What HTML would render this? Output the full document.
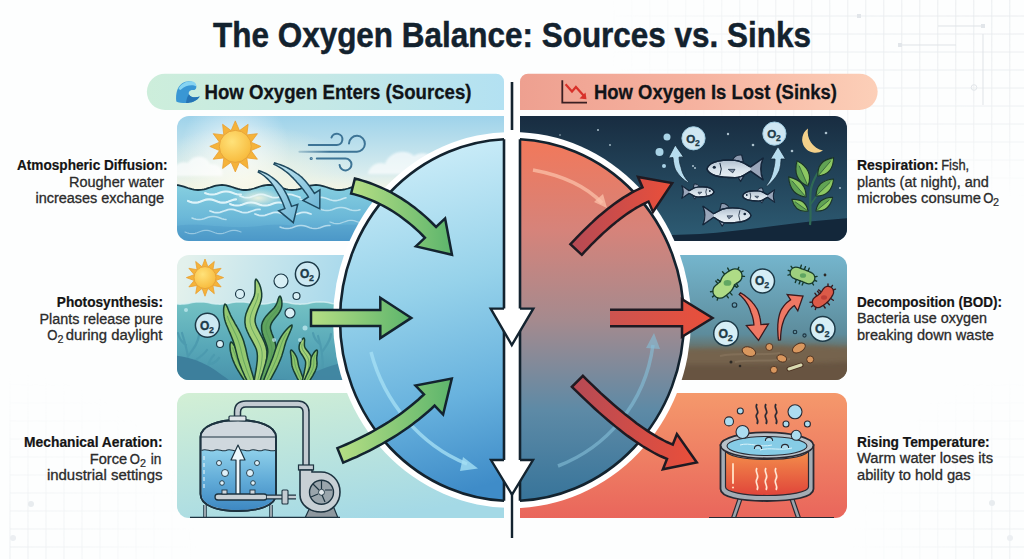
<!DOCTYPE html>
<html><head><meta charset="utf-8"><style>
html,body{margin:0;padding:0;background:#fdfefe;width:1024px;height:559px;overflow:hidden}
svg{display:block}
text{font-family:"Liberation Sans",sans-serif}
</style></head><body>
<svg width="1024" height="559" viewBox="0 0 1024 559">

<defs>
 <linearGradient id="hdrL" x1="0" x2="1" y1="0" y2="0">
  <stop offset="0" stop-color="#cdeedb"/><stop offset="0.5" stop-color="#c4e8e6"/><stop offset="1" stop-color="#b3e1f2"/>
 </linearGradient>
 <linearGradient id="hdrR" x1="0" x2="1" y1="0" y2="0">
  <stop offset="0" stop-color="#eea090"/><stop offset="0.5" stop-color="#f6b3a0"/><stop offset="1" stop-color="#fccfb8"/>
 </linearGradient>
 <linearGradient id="circL" x1="0" x2="0.25" y1="0" y2="1">
  <stop offset="0" stop-color="#d6f2fb"/><stop offset="0.45" stop-color="#96d2ea"/><stop offset="0.75" stop-color="#68b2de"/><stop offset="1" stop-color="#3f8cc8"/>
 </linearGradient>
 <linearGradient id="circR" x1="0" x2="0" y1="0" y2="1">
  <stop offset="0" stop-color="#f2785a"/><stop offset="0.25" stop-color="#d6837a"/><stop offset="0.5" stop-color="#a58a8e"/><stop offset="0.75" stop-color="#5d8aa6"/><stop offset="1" stop-color="#37749a"/>
 </linearGradient>
 <linearGradient id="greenA" gradientUnits="objectBoundingBox" x1="0" x2="1" y1="0" y2="0">
  <stop offset="0" stop-color="#b6de84"/><stop offset="1" stop-color="#5db56c"/>
 </linearGradient>
 <linearGradient id="redA" gradientUnits="objectBoundingBox" x1="0" x2="1" y1="0" y2="0">
  <stop offset="0" stop-color="#b54a55"/><stop offset="1" stop-color="#ea4f3a"/>
 </linearGradient>
 <linearGradient id="p1sky" x1="0" x2="0" y1="0" y2="1">
  <stop offset="0" stop-color="#98d0ea"/><stop offset="0.45" stop-color="#d8ecee"/><stop offset="0.56" stop-color="#f2f5e6"/>
 </linearGradient>
 <linearGradient id="p1sea" x1="0" x2="0" y1="0" y2="1">
  <stop offset="0" stop-color="#86cfe0"/><stop offset="0.5" stop-color="#6bb8d8"/><stop offset="1" stop-color="#4591c6"/>
 </linearGradient>
 <linearGradient id="p2sky" gradientUnits="userSpaceOnUse" x1="185" x2="340" y1="260" y2="300">
  <stop offset="0" stop-color="#e3f1ec"/><stop offset="1" stop-color="#a9d9ec"/>
 </linearGradient>
 <linearGradient id="p2sea" x1="0" x2="0" y1="0" y2="1">
  <stop offset="0" stop-color="#74c2c4"/><stop offset="0.5" stop-color="#58a8b8"/><stop offset="1" stop-color="#458ea8"/>
 </linearGradient>
 <linearGradient id="p3bg" x1="0" x2="0.4" y1="0" y2="1">
  <stop offset="0" stop-color="#d4f0d4"/><stop offset="1" stop-color="#a4d9e6"/>
 </linearGradient>
 <linearGradient id="r1bg" x1="0" x2="0" y1="0" y2="1">
  <stop offset="0" stop-color="#172a3e"/><stop offset="1" stop-color="#2f6078"/>
 </linearGradient>
 <linearGradient id="r2bg" x1="0" x2="0" y1="0" y2="1">
  <stop offset="0" stop-color="#76b8d0"/><stop offset="0.6" stop-color="#5d8c9c"/><stop offset="0.75" stop-color="#6e6450"/><stop offset="1" stop-color="#5e4e3c"/>
 </linearGradient>
 <linearGradient id="r3bg" x1="0" x2="0" y1="0" y2="1">
  <stop offset="0" stop-color="#f59a6c"/><stop offset="1" stop-color="#e8615a"/>
 </linearGradient>
 <radialGradient id="glow1" cx="0.5" cy="0.5" r="0.5">
  <stop offset="0" stop-color="#f6f6e2" stop-opacity="0.9"/><stop offset="1" stop-color="#f6f6e2" stop-opacity="0"/>
 </radialGradient>
 <linearGradient id="windG" gradientUnits="userSpaceOnUse" x1="299" x2="330" y1="0" y2="0">
  <stop offset="0" stop-color="#3d7496" stop-opacity="0.3"/><stop offset="1" stop-color="#3d7496"/>
 </linearGradient>
 <linearGradient id="ablue" x1="0" x2="1" y1="0" y2="1">
  <stop offset="0" stop-color="#c6e8f2"/><stop offset="1" stop-color="#6db6d6"/>
 </linearGradient>
 <linearGradient id="fishG" x1="0" x2="0" y1="0" y2="1">
  <stop offset="0" stop-color="#a9b8c8"/><stop offset="0.5" stop-color="#d6e1ea"/><stop offset="1" stop-color="#eef3f6"/>
 </linearGradient>
 <linearGradient id="potG" x1="0" x2="0" y1="0" y2="1">
  <stop offset="0" stop-color="#f4914c"/><stop offset="1" stop-color="#e0453a"/>
 </linearGradient>
 <radialGradient id="fTR" gradientUnits="userSpaceOnUse" cx="1000" cy="20" r="400" gradientTransform="translate(1000 20) scale(1 0.45) translate(-1000 -20)"><stop offset="0" stop-color="#fff" stop-opacity="1"/><stop offset="0.6" stop-color="#fff" stop-opacity="0.7"/><stop offset="1" stop-color="#fff" stop-opacity="0"/></radialGradient>
 <mask id="fadeTR"><rect x="600" y="0" width="424" height="200" fill="url(#fTR)"/></mask>
 <radialGradient id="fBL" cx="0" cy="1" r="1"><stop offset="0" stop-color="#fff" stop-opacity="0.8"/><stop offset="1" stop-color="#fff" stop-opacity="0"/></radialGradient>
 <mask id="fadeBL"><rect x="0" y="370" width="200" height="189" fill="url(#fBL)"/></mask>
 <radialGradient id="fBR" cx="1" cy="1" r="1"><stop offset="0" stop-color="#fff" stop-opacity="0.8"/><stop offset="1" stop-color="#fff" stop-opacity="0"/></radialGradient>
 <mask id="fadeBR"><rect x="850" y="370" width="174" height="189" fill="url(#fBR)"/></mask>
 <linearGradient id="tankW" x1="0" x2="0" y1="0" y2="1">
  <stop offset="0" stop-color="#8fd0ea"/><stop offset="0.5" stop-color="#62acd8"/><stop offset="1" stop-color="#3e88c2"/>
 </linearGradient>
 <filter id="blur2" x="-5%" y="-30%" width="110%" height="160%"><feGaussianBlur stdDeviation="2"/></filter>
 <radialGradient id="glow2" cx="0.5" cy="0.5" r="0.5">
  <stop offset="0" stop-color="#ffffff" stop-opacity="0.75"/><stop offset="0.6" stop-color="#ffffff" stop-opacity="0.3"/><stop offset="1" stop-color="#ffffff" stop-opacity="0"/>
 </radialGradient>
 <linearGradient id="redB" x1="0" x2="1" y1="0" y2="0">
  <stop offset="0" stop-color="#cc5450"/><stop offset="1" stop-color="#ea4f3a"/>
 </linearGradient>
 <filter id="blur1" x="-10%" y="-30%" width="120%" height="160%"><feGaussianBlur stdDeviation="1"/></filter>
 <radialGradient id="sun" cx="0.4" cy="0.35" r="0.7">
  <stop offset="0" stop-color="#ffe27a"/><stop offset="1" stop-color="#f7b93a"/>
 </radialGradient>
 <clipPath id="cL1"><path d="M189 116H504V241H189A12 12 0 0 1 177 229V128A12 12 0 0 1 189 116Z"/></clipPath>
 <clipPath id="cL2"><path d="M189 255H504V380H189A12 12 0 0 1 177 368V267A12 12 0 0 1 189 255Z"/></clipPath>
 <clipPath id="cL3"><path d="M189 393H504V518H189A12 12 0 0 1 177 506V405A12 12 0 0 1 189 393Z"/></clipPath>
 <clipPath id="cR1"><path d="M520 116H835A12 12 0 0 1 847 128V229A12 12 0 0 1 835 241H520Z"/></clipPath>
 <clipPath id="cR2"><path d="M520 255H835A12 12 0 0 1 847 267V368A12 12 0 0 1 835 380H520Z"/></clipPath>
 <clipPath id="cR3"><path d="M520 393H835A12 12 0 0 1 847 405V506A12 12 0 0 1 835 518H520Z"/></clipPath>
 <clipPath id="halfL"><rect x="0" y="0" width="504" height="559"/></clipPath>
 <clipPath id="halfR"><rect x="520" y="0" width="504" height="559"/></clipPath>
</defs>

<rect width="1024" height="559" fill="#fdfefe"/>
<g mask="url(#fadeTR)"><path d="M613.8 -2.0V196.0M631.8 -2.0V196.0M649.8 -2.0V196.0M667.8 -2.0V196.0M685.8 -2.0V196.0M703.8 -2.0V196.0M721.8 -2.0V196.0M739.8 -2.0V196.0M757.8 -2.0V196.0M775.8 -2.0V196.0M793.8 -2.0V196.0M811.8 -2.0V196.0M829.8 -2.0V196.0M847.8 -2.0V196.0M865.8 -2.0V196.0M883.8 -2.0V196.0M901.8 -2.0V196.0M919.8 -2.0V196.0M937.8 -2.0V196.0M955.8 -2.0V196.0M973.8 -2.0V196.0M991.8 -2.0V196.0M1009.8 -2.0V196.0M613.8 -2.0H1024.0M613.8 16.0H1024.0M613.8 34.0H1024.0M613.8 52.0H1024.0M613.8 70.0H1024.0M613.8 88.0H1024.0M613.8 106.0H1024.0M613.8 124.0H1024.0M613.8 142.0H1024.0M613.8 160.0H1024.0M613.8 178.0H1024.0M613.8 196.0H1024.0" stroke="#e3e7eb" stroke-width="1" fill="none" opacity="0.75"/></g>
<g mask="url(#fadeBL)"><path d="M10.0 367.0V559.0M28.0 367.0V559.0M46.0 367.0V559.0M64.0 367.0V559.0M82.0 367.0V559.0M100.0 367.0V559.0M118.0 367.0V559.0M136.0 367.0V559.0M154.0 367.0V559.0M172.0 367.0V559.0M190.0 367.0V559.0M10.0 367.0H200.0M10.0 385.0H200.0M10.0 403.0H200.0M10.0 421.0H200.0M10.0 439.0H200.0M10.0 457.0H200.0M10.0 475.0H200.0M10.0 493.0H200.0M10.0 511.0H200.0M10.0 529.0H200.0M10.0 547.0H200.0" stroke="#e3e7eb" stroke-width="1" fill="none" opacity="0.8"/></g>
<g mask="url(#fadeBR)"><path d="M847.8 367.0V559.0M865.8 367.0V559.0M883.8 367.0V559.0M901.8 367.0V559.0M919.8 367.0V559.0M937.8 367.0V559.0M955.8 367.0V559.0M973.8 367.0V559.0M991.8 367.0V559.0M1009.8 367.0V559.0M847.8 367.0H1024.0M847.8 385.0H1024.0M847.8 403.0H1024.0M847.8 421.0H1024.0M847.8 439.0H1024.0M847.8 457.0H1024.0M847.8 475.0H1024.0M847.8 493.0H1024.0M847.8 511.0H1024.0M847.8 529.0H1024.0M847.8 547.0H1024.0" stroke="#e3e7eb" stroke-width="1" fill="none" opacity="0.8"/></g>
<path d="M938 26H984M900 45H956M983 34V105M956 45V45" stroke="#dfe3e7" stroke-width="1" fill="none"/>
<rect x="857" y="14" width="4" height="4" fill="#e2e6ea"/><rect x="981" y="24" width="4" height="4" fill="#e2e6ea"/><rect x="898" y="43" width="4" height="4" fill="#e2e6ea"/><rect x="693" y="28" width="4" height="4" fill="#eceff2"/><rect x="772" y="87" width="4" height="4" fill="#eceff2"/>
<circle cx="974" cy="87.5" r="2.8" fill="none" stroke="#e2e6ea" stroke-width="1"/>
<circle cx="31" cy="504" r="3" fill="#e8ecef"/><circle cx="13" cy="538" r="3" fill="#eceff2"/><circle cx="992" cy="503" r="3" fill="#e8ecef"/><circle cx="1010" cy="538" r="3" fill="#eceff2"/>
<text x="213" y="47.2" font-family="Liberation Sans" font-weight="bold" font-size="35.5" fill="#13222e" stroke="#13222e" stroke-width="0.5" textLength="598" lengthAdjust="spacingAndGlyphs">The Oxygen Balance: Sources vs. Sinks</text>
<path d="M165 73.7H496A8 8 0 0 1 504 81.7V110H165A18.15 18.15 0 0 1 165 73.7Z" fill="url(#hdrL)"/>
<path d="M528 73.7H859.5A18.15 18.15 0 0 1 859.5 110H520V81.7A8 8 0 0 1 528 73.7Z" fill="url(#hdrR)"/>
<text x="204.5" y="99.3" font-family="Liberation Sans" font-weight="bold" font-size="19.5" fill="#111418" stroke="#111418" stroke-width="0.3" textLength="267" lengthAdjust="spacingAndGlyphs">How Oxygen Enters (Sources)</text>
<text x="594" y="99.3" font-family="Liberation Sans" font-weight="bold" font-size="19.5" fill="#111418" stroke="#111418" stroke-width="0.3" textLength="243" lengthAdjust="spacingAndGlyphs">How Oxygen Is Lost (Sinks)</text>
<g>
<path d="M176.3 101.5C175.5 94 177 87 182 83.5C187 80 194 80.5 196 85C197 88 195.5 90 193.5 90C190 89.5 188 92 189 94.5C190.5 97.5 196 98 199.8 96.5C197 101 191 103 186 103C182 103 178 102.5 176.3 101.5Z" fill="#3997d4"/>
<path d="M178.5 89C180.5 84 186 80.8 191.5 81.3C194.5 81.6 196.5 83.5 196.2 86.3C193 84.3 186 84.5 180.5 90Z" fill="#86d4f2"/>
<path d="M189 94.5C190.5 97.5 196 98 199.8 96.5C197 101 191 103 186 103C186.5 99.5 187 96.5 189 94.5Z" fill="#2574b4"/>
</g>
<g fill="none">
<path d="M562.3 80.3V102.7H587" stroke="#3a1f22" stroke-width="1.8"/>
<path d="M565.6 84.2L572 91.5L575.9 87L584 96" stroke="#d8312a" stroke-width="2.2"/>
<path d="M579.5 98.5L586.5 99.3L585.5 92.5Z" fill="#d8312a"/>
</g>
<path d="M512 82V140" stroke="#13232f" stroke-width="2.6"/>
<g clip-path="url(#cL1)">
<rect x="170" y="110" width="340" height="140" fill="url(#p1sky)"/>
<ellipse cx="250" cy="180" rx="110" ry="55" fill="url(#glow1)"/>
<path d="M170 176 C172 166 180 160 188 163 C193 154 207 155 210 164 C218 163 225 170 222 176Z" fill="#ffffff" opacity="0.7" filter="url(#blur1)"/>
<path d="M368 174 C369 166 378 161 385 164 C389 152 405 148 414 156 C421 150 436 154 436 164 C444 164 448 169 447 174Z" fill="#ffffff" opacity="0.65" filter="url(#blur1)"/>
<circle cx="235" cy="150" r="55" fill="url(#glow2)"/>
<g><path d="M235.3 120.9 L239.5 130.6 L248.1 124.3 L246.8 134.9 L257.4 133.7 L251.1 142.2 L260.8 146.4 L251.1 150.6 L257.4 159.2 L246.8 157.9 L248.1 168.5 L239.5 162.2 L235.3 171.9 L231.1 162.2 L222.6 168.5 L223.8 157.9 L213.2 159.2 L219.5 150.6 L209.8 146.4 L219.5 142.2 L213.2 133.7 L223.8 134.9 L222.6 124.3 L231.1 130.6Z" fill="#f5b33a" stroke="#eaa030" stroke-width="0.8" stroke-linejoin="round"/><circle cx="235.3" cy="146.4" r="16.0" fill="url(#sun)" stroke="#e7a43a" stroke-width="1"/></g>
<g fill="none" stroke="#3d7496" stroke-width="2" stroke-linecap="round">
<path d="M308.8 144.9H336.5A5.6 5.6 0 1 0 331.5 137.5"/>
<path d="M299.4 151.7H356.6A7.95 7.95 0 1 0 349 143.5" stroke="url(#windG)"/>
<path d="M316.8 158.5H345.5A5.95 5.95 0 1 1 339.6 165"/>
<circle cx="311.2" cy="158.5" r="0.6"/>
</g>
<path d="M170.0 185.5L172.0 185.2L174.0 185.0L176.0 185.0L178.0 185.2L180.0 185.6L182.0 186.1L184.0 186.7L186.0 187.3L188.0 188.0L190.0 188.6L192.0 189.2L194.0 189.6L196.0 189.9L198.0 190.0L200.0 189.9L202.0 189.7L204.0 189.3L206.0 188.8L208.0 188.1L210.0 187.5L212.0 186.8L214.0 186.2L216.0 185.7L218.0 185.3L220.0 185.1L222.0 185.0L224.0 185.1L226.0 185.4L228.0 185.8L230.0 186.4L232.0 187.0L234.0 187.7L236.0 188.3L238.0 188.9L240.0 189.4L242.0 189.8L244.0 190.0L246.0 190.0L248.0 189.8L250.0 189.5L252.0 189.0L254.0 188.5L256.0 187.8L258.0 187.2L260.0 186.5L262.0 185.9L264.0 185.5L266.0 185.2L268.0 185.0L270.0 185.0L272.0 185.2L274.0 185.6L276.0 186.1L278.0 186.7L280.0 187.3L282.0 188.0L284.0 188.6L286.0 189.2L288.0 189.6L290.0 189.9L292.0 190.0L294.0 189.9L296.0 189.7L298.0 189.3L300.0 188.8L302.0 188.1L304.0 187.5L306.0 186.8L308.0 186.2L310.0 185.7L312.0 185.3L314.0 185.1L316.0 185.0L318.0 185.1L320.0 185.4L322.0 185.8L324.0 186.4L326.0 187.0L328.0 187.7L330.0 188.3L332.0 188.9L334.0 189.4L336.0 189.8L338.0 190.0L340.0 190.0L342.0 189.8L344.0 189.5L346.0 189.0L348.0 188.5L350.0 187.8L352.0 187.2L354.0 186.5L356.0 185.9L358.0 185.5L360.0 185.2L362.0 185.0L364.0 185.0L366.0 185.2L368.0 185.6L370.0 186.1L372.0 186.7L374.0 187.3L376.0 188.0L378.0 188.6L380.0 189.2L382.0 189.6L384.0 189.9L386.0 190.0L388.0 189.9L390.0 189.7L392.0 189.3L394.0 188.8L396.0 188.1L398.0 187.5L400.0 186.8L402.0 186.2L404.0 185.7L406.0 185.3L408.0 185.1L410.0 185.0L412.0 185.1L414.0 185.4L416.0 185.8L418.0 186.4L420.0 187.0L422.0 187.7L424.0 188.3L426.0 188.9L428.0 189.4L430.0 189.8L432.0 190.0L434.0 190.0L436.0 189.8L438.0 189.5L440.0 189.0L442.0 188.5L444.0 187.8L446.0 187.2L448.0 186.5L450.0 185.9L452.0 185.5L454.0 185.2L456.0 185.0L458.0 185.0L460.0 185.2L462.0 185.6L464.0 186.1L466.0 186.7L468.0 187.3L470.0 188.0L472.0 188.6L474.0 189.2L476.0 189.6L478.0 189.9L480.0 190.0L482.0 189.9L484.0 189.7L486.0 189.3L488.0 188.8L490.0 188.1L492.0 187.5L494.0 186.8L496.0 186.2L498.0 185.7L500.0 185.3L502.0 185.1L504.0 185.0L506.0 185.1L508.0 185.4L510.0 185.8V250.0H170.0Z" fill="url(#p1sea)"/>
<ellipse cx="258" cy="198" rx="24" ry="10" fill="url(#glow1)"/>
<path d="M177 226 C200 222 225 230 260 226 C290 222 300 230 330 226 C360 222 400 230 510 226 L510 250 H177Z" fill="#3f8cc0" opacity="0.25"/>
<path d="M205.0 193.0L207.0 193.7L209.0 194.3L211.0 194.6L213.0 194.6L215.0 194.3L217.0 193.7L219.0 193.0L221.0 192.3L223.0 191.7L225.0 191.4L227.0 191.4L229.0 191.7L231.0 192.3L233.0 193.0L235.0 193.7L237.0 194.3L239.0 194.6L241.0 194.6" fill="none" stroke="#e9f8fc" stroke-width="2.0" stroke-linecap="round" opacity="0.9"/>
<path d="M240.0 196.0L242.0 196.7L244.0 197.3L246.0 197.6L248.0 197.6L250.0 197.3L252.0 196.7L254.0 196.0L256.0 195.3L258.0 194.7L260.0 194.4L262.0 194.4L264.0 194.7L266.0 195.3L268.0 196.0L270.0 196.7L272.0 197.3L274.0 197.6L276.0 197.6L278.0 197.3L280.0 196.7L282.0 196.0L284.0 195.3L286.0 194.7L288.0 194.4L290.0 194.4L292.0 194.7L294.0 195.3L296.0 196.0L298.0 196.7L300.0 197.3" fill="none" stroke="#e9f8fc" stroke-width="1.8" stroke-linecap="round" opacity="0.85"/>
<path d="M188.0 201.0L190.0 201.7L192.0 202.3L194.0 202.6L196.0 202.6L198.0 202.3L200.0 201.7L202.0 201.0L204.0 200.3L206.0 199.7L208.0 199.4L210.0 199.4L212.0 199.7L214.0 200.3L216.0 201.0L218.0 201.7L220.0 202.3L222.0 202.6L224.0 202.6L226.0 202.3L228.0 201.7L230.0 201.0L232.0 200.3L234.0 199.7L236.0 199.4" fill="none" stroke="#e9f8fc" stroke-width="2.2" stroke-linecap="round" opacity="0.9"/>
<path d="M230.0 204.0L232.0 204.7L234.0 205.3L236.0 205.6L238.0 205.6L240.0 205.3L242.0 204.7L244.0 204.0L246.0 203.3L248.0 202.7L250.0 202.4L252.0 202.4L254.0 202.7L256.0 203.3L258.0 204.0L260.0 204.7L262.0 205.3L264.0 205.6L266.0 205.6L268.0 205.3L270.0 204.7L272.0 204.0L274.0 203.3L276.0 202.7L278.0 202.4L280.0 202.4L282.0 202.7L284.0 203.3L286.0 204.0L288.0 204.7L290.0 205.3" fill="none" stroke="#e9f8fc" stroke-width="2.0" stroke-linecap="round" opacity="0.9"/>
<path d="M300.0 199.0L302.0 199.7L304.0 200.3L306.0 200.6L308.0 200.6L310.0 200.3L312.0 199.7L314.0 199.0L316.0 198.3L318.0 197.7L320.0 197.4L322.0 197.4L324.0 197.7L326.0 198.3L328.0 199.0L330.0 199.7L332.0 200.3L334.0 200.6L336.0 200.6L338.0 200.3L340.0 199.7L342.0 199.0L344.0 198.3L346.0 197.7" fill="none" stroke="#e9f8fc" stroke-width="1.6" stroke-linecap="round" opacity="0.7"/>
<path d="M210.0 211.0L212.0 211.7L214.0 212.3L216.0 212.6L218.0 212.6L220.0 212.3L222.0 211.7L224.0 211.0L226.0 210.3L228.0 209.7L230.0 209.4L232.0 209.4L234.0 209.7L236.0 210.3L238.0 211.0L240.0 211.7L242.0 212.3L244.0 212.6L246.0 212.6L248.0 212.3L250.0 211.7L252.0 211.0L254.0 210.3L256.0 209.7L258.0 209.4L260.0 209.4" fill="none" stroke="#e9f8fc" stroke-width="1.8" stroke-linecap="round" opacity="0.8"/>
<path d="M255.0 214.0L257.0 214.7L259.0 215.3L261.0 215.6L263.0 215.6L265.0 215.3L267.0 214.7L269.0 214.0L271.0 213.3L273.0 212.7L275.0 212.4L277.0 212.4L279.0 212.7L281.0 213.3L283.0 214.0L285.0 214.7L287.0 215.3L289.0 215.6L291.0 215.6L293.0 215.3L295.0 214.7L297.0 214.0L299.0 213.3L301.0 212.7L303.0 212.4L305.0 212.4L307.0 212.7L309.0 213.3L311.0 214.0" fill="none" stroke="#e9f8fc" stroke-width="1.8" stroke-linecap="round" opacity="0.8"/>
<path d="M192.0 218.0L194.0 218.7L196.0 219.3L198.0 219.6L200.0 219.6L202.0 219.3L204.0 218.7L206.0 218.0L208.0 217.3L210.0 216.7L212.0 216.4L214.0 216.4L216.0 216.7L218.0 217.3L220.0 218.0L222.0 218.7L224.0 219.3L226.0 219.6" fill="none" stroke="#e9f8fc" stroke-width="1.5" stroke-linecap="round" opacity="0.6"/>
<path d="M320.0 209.0L322.0 209.7L324.0 210.3L326.0 210.6L328.0 210.6L330.0 210.3L332.0 209.7L334.0 209.0L336.0 208.3L338.0 207.7L340.0 207.4L342.0 207.4L344.0 207.7L346.0 208.3L348.0 209.0L350.0 209.7L352.0 210.3L354.0 210.6L356.0 210.6L358.0 210.3L360.0 209.7" fill="none" stroke="#e9f8fc" stroke-width="1.5" stroke-linecap="round" opacity="0.6"/>
<path d="M280.0 227.0L282.0 227.7L284.0 228.3L286.0 228.6L288.0 228.6L290.0 228.3L292.0 227.7L294.0 227.0L296.0 226.3L298.0 225.7L300.0 225.4L302.0 225.4L304.0 225.7L306.0 226.3L308.0 227.0L310.0 227.7L312.0 228.3L314.0 228.6L316.0 228.6L318.0 228.3L320.0 227.7L322.0 227.0L324.0 226.3L326.0 225.7L328.0 225.4L330.0 225.4" fill="none" stroke="#e9f8fc" stroke-width="1.5" stroke-linecap="round" opacity="0.6"/>
<path d="M185.0 232.0L187.0 232.7L189.0 233.3L191.0 233.6L193.0 233.6L195.0 233.3L197.0 232.7L199.0 232.0L201.0 231.3L203.0 230.7L205.0 230.4L207.0 230.4L209.0 230.7L211.0 231.3L213.0 232.0L215.0 232.7L217.0 233.3L219.0 233.6L221.0 233.6L223.0 233.3L225.0 232.7L227.0 232.0L229.0 231.3L231.0 230.7L233.0 230.4L235.0 230.4L237.0 230.7L239.0 231.3L241.0 232.0" fill="none" stroke="#e9f8fc" stroke-width="1.2" stroke-linecap="round" opacity="0.45"/>
<path d="M330.0 222.0L332.0 222.7L334.0 223.3L336.0 223.6L338.0 223.6L340.0 223.3L342.0 222.7L344.0 222.0L346.0 221.3L348.0 220.7L350.0 220.4L352.0 220.4L354.0 220.7L356.0 221.3L358.0 222.0L360.0 222.7L362.0 223.3L364.0 223.6L366.0 223.6L368.0 223.3L370.0 222.7" fill="none" stroke="#e9f8fc" stroke-width="1.3" stroke-linecap="round" opacity="0.5"/>
<path d="M170.0 185.5L172.0 185.2L174.0 185.0L176.0 185.0L178.0 185.2L180.0 185.6L182.0 186.1L184.0 186.7L186.0 187.3L188.0 188.0L190.0 188.6L192.0 189.2L194.0 189.6L196.0 189.9L198.0 190.0L200.0 189.9L202.0 189.7L204.0 189.3L206.0 188.8L208.0 188.1L210.0 187.5L212.0 186.8L214.0 186.2L216.0 185.7L218.0 185.3L220.0 185.1L222.0 185.0L224.0 185.1L226.0 185.4L228.0 185.8L230.0 186.4L232.0 187.0L234.0 187.7L236.0 188.3L238.0 188.9L240.0 189.4L242.0 189.8L244.0 190.0L246.0 190.0L248.0 189.8L250.0 189.5L252.0 189.0L254.0 188.5L256.0 187.8L258.0 187.2L260.0 186.5L262.0 185.9L264.0 185.5L266.0 185.2L268.0 185.0L270.0 185.0L272.0 185.2L274.0 185.6L276.0 186.1L278.0 186.7L280.0 187.3L282.0 188.0L284.0 188.6L286.0 189.2L288.0 189.6L290.0 189.9L292.0 190.0L294.0 189.9L296.0 189.7L298.0 189.3L300.0 188.8L302.0 188.1L304.0 187.5L306.0 186.8L308.0 186.2L310.0 185.7L312.0 185.3L314.0 185.1L316.0 185.0L318.0 185.1L320.0 185.4L322.0 185.8L324.0 186.4L326.0 187.0L328.0 187.7L330.0 188.3L332.0 188.9L334.0 189.4L336.0 189.8L338.0 190.0L340.0 190.0L342.0 189.8L344.0 189.5L346.0 189.0L348.0 188.5L350.0 187.8L352.0 187.2L354.0 186.5L356.0 185.9L358.0 185.5L360.0 185.2L362.0 185.0L364.0 185.0L366.0 185.2L368.0 185.6L370.0 186.1L372.0 186.7L374.0 187.3L376.0 188.0L378.0 188.6L380.0 189.2L382.0 189.6L384.0 189.9L386.0 190.0L388.0 189.9L390.0 189.7L392.0 189.3L394.0 188.8L396.0 188.1L398.0 187.5L400.0 186.8L402.0 186.2L404.0 185.7L406.0 185.3L408.0 185.1L410.0 185.0L412.0 185.1L414.0 185.4L416.0 185.8L418.0 186.4L420.0 187.0L422.0 187.7L424.0 188.3L426.0 188.9L428.0 189.4L430.0 189.8L432.0 190.0L434.0 190.0L436.0 189.8L438.0 189.5L440.0 189.0L442.0 188.5L444.0 187.8L446.0 187.2L448.0 186.5L450.0 185.9L452.0 185.5L454.0 185.2L456.0 185.0L458.0 185.0L460.0 185.2L462.0 185.6L464.0 186.1L466.0 186.7L468.0 187.3L470.0 188.0L472.0 188.6L474.0 189.2L476.0 189.6L478.0 189.9L480.0 190.0L482.0 189.9L484.0 189.7L486.0 189.3L488.0 188.8L490.0 188.1L492.0 187.5L494.0 186.8L496.0 186.2L498.0 185.7L500.0 185.3L502.0 185.1L504.0 185.0L506.0 185.1L508.0 185.4L510.0 185.8" fill="none" stroke="#17323f" stroke-width="1.8"/>
<path d="M258.3 172.1 L259.9 173.0 L261.4 174.0 L262.9 175.0 L264.3 176.0 L265.7 177.2 L267.0 178.4 L268.3 179.6 L269.5 180.9 L270.7 182.2 L271.8 183.6 L272.9 185.1 L273.9 186.6 L274.9 188.2 L275.9 189.8 L276.8 191.5 L277.8 193.1 L278.8 194.8 L279.8 196.6 L280.7 198.4 L281.6 200.3 L282.5 202.3 L283.3 204.3 L284.1 206.4 L284.9 208.6 L278.7 210.7 L293.3 222.7 L297.7 204.3 L291.5 206.4 L290.7 204.1 L289.8 201.8 L288.9 199.6 L288.0 197.4 L287.0 195.3 L286.0 193.3 L284.9 191.3 L283.8 189.4 L282.7 187.6 L281.3 186.0 L279.9 184.4 L278.5 182.9 L277.0 181.4 L275.5 180.1 L274.0 178.8 L272.4 177.6 L270.8 176.5 L269.2 175.4 L267.6 174.4 L265.9 173.5 L264.2 172.7 L262.4 172.0 L260.7 171.3 L258.9 170.7Z" fill="url(#ablue)" stroke="#1f4a60" stroke-width="1.5" stroke-linejoin="miter"/>
<path d="M274.0 164.3 L275.8 165.2 L277.6 166.1 L279.3 167.1 L281.0 168.1 L282.6 169.2 L284.2 170.3 L285.8 171.5 L287.3 172.7 L288.8 173.9 L290.2 175.2 L291.6 176.6 L293.0 177.9 L294.4 179.4 L295.7 180.8 L296.9 182.3 L298.3 183.8 L299.7 185.3 L301.0 186.8 L302.3 188.4 L303.6 190.0 L304.8 191.7 L306.1 193.4 L307.3 195.2 L308.4 197.0 L302.9 200.5 L319.8 208.8 L319.9 189.9 L314.4 193.4 L313.1 191.4 L311.8 189.5 L310.5 187.6 L309.2 185.8 L307.8 184.0 L306.4 182.3 L304.9 180.6 L303.4 179.0 L301.9 177.4 L300.2 176.0 L298.6 174.7 L296.8 173.5 L295.1 172.3 L293.3 171.1 L291.6 170.0 L289.7 169.0 L287.9 168.0 L286.1 167.1 L284.2 166.3 L282.3 165.5 L280.4 164.8 L278.5 164.1 L276.5 163.5 L274.6 162.9Z" fill="url(#ablue)" stroke="#1f4a60" stroke-width="1.5" stroke-linejoin="miter"/>
</g>
<g clip-path="url(#cL2)">
<rect x="170" y="250" width="340" height="140" fill="url(#p2sky)"/>
<g><path d="M205.0 259.0 L207.9 266.8 L214.3 261.5 L212.9 269.7 L221.1 268.3 L215.8 274.7 L223.6 277.6 L215.8 280.5 L221.1 286.9 L212.9 285.5 L214.3 293.7 L207.9 288.4 L205.0 296.2 L202.1 288.4 L195.7 293.7 L197.1 285.5 L188.9 286.9 L194.2 280.5 L186.4 277.6 L194.2 274.7 L188.9 268.3 L197.1 269.7 L195.7 261.5 L202.1 266.8Z" fill="#f5b33a" stroke="#eaa030" stroke-width="0.8" stroke-linejoin="round"/><circle cx="205.0" cy="277.6" r="11.0" fill="url(#sun)" stroke="#e7a43a" stroke-width="1"/></g>
<path d="M170.0 303.0L172.0 303.4L174.0 303.7L176.0 304.0L178.0 304.1L180.0 304.2L182.0 304.1L184.0 304.0L186.0 303.7L188.0 303.4L190.0 303.0L192.0 302.6L194.0 302.3L196.0 302.0L198.0 301.9L200.0 301.8L202.0 301.9L204.0 302.0L206.0 302.3L208.0 302.6L210.0 303.0L212.0 303.4L214.0 303.7L216.0 304.0L218.0 304.1L220.0 304.2L222.0 304.1L224.0 304.0L226.0 303.7L228.0 303.4L230.0 303.0L232.0 302.6L234.0 302.3L236.0 302.0L238.0 301.9L240.0 301.8L242.0 301.9L244.0 302.0L246.0 302.3L248.0 302.6L250.0 303.0L252.0 303.4L254.0 303.7L256.0 304.0L258.0 304.1L260.0 304.2L262.0 304.1L264.0 304.0L266.0 303.7L268.0 303.4L270.0 303.0L272.0 302.6L274.0 302.3L276.0 302.0L278.0 301.9L280.0 301.8L282.0 301.9L284.0 302.0L286.0 302.3L288.0 302.6L290.0 303.0L292.0 303.4L294.0 303.7L296.0 304.0L298.0 304.1L300.0 304.2L302.0 304.1L304.0 304.0L306.0 303.7L308.0 303.4L310.0 303.0L312.0 302.6L314.0 302.3L316.0 302.0L318.0 301.9L320.0 301.8L322.0 301.9L324.0 302.0L326.0 302.3L328.0 302.6L330.0 303.0L332.0 303.4L334.0 303.7L336.0 304.0L338.0 304.1L340.0 304.2L342.0 304.1L344.0 304.0L346.0 303.7L348.0 303.4L350.0 303.0L352.0 302.6L354.0 302.3L356.0 302.0L358.0 301.9L360.0 301.8L362.0 301.9L364.0 302.0L366.0 302.3L368.0 302.6L370.0 303.0L372.0 303.4L374.0 303.7L376.0 304.0L378.0 304.1L380.0 304.2L382.0 304.1L384.0 304.0L386.0 303.7L388.0 303.4L390.0 303.0L392.0 302.6L394.0 302.3L396.0 302.0L398.0 301.9L400.0 301.8L402.0 301.9L404.0 302.0L406.0 302.3L408.0 302.6L410.0 303.0L412.0 303.4L414.0 303.7L416.0 304.0L418.0 304.1L420.0 304.2L422.0 304.1L424.0 304.0L426.0 303.7L428.0 303.4L430.0 303.0L432.0 302.6L434.0 302.3L436.0 302.0L438.0 301.9L440.0 301.8L442.0 301.9L444.0 302.0L446.0 302.3L448.0 302.6L450.0 303.0L452.0 303.4L454.0 303.7L456.0 304.0L458.0 304.1L460.0 304.2L462.0 304.1L464.0 304.0L466.0 303.7L468.0 303.4L470.0 303.0L472.0 302.6L474.0 302.3L476.0 302.0L478.0 301.9L480.0 301.8L482.0 301.9L484.0 302.0L486.0 302.3L488.0 302.6L490.0 303.0L492.0 303.4L494.0 303.7L496.0 304.0L498.0 304.1L500.0 304.2L502.0 304.1L504.0 304.0L506.0 303.7L508.0 303.4L510.0 303.0V390.0H170.0Z" fill="url(#p2sea)"/>
<path d="M170.0 303.0L172.0 303.4L174.0 303.7L176.0 304.0L178.0 304.1L180.0 304.2L182.0 304.1L184.0 304.0L186.0 303.7L188.0 303.4L190.0 303.0L192.0 302.6L194.0 302.3L196.0 302.0L198.0 301.9L200.0 301.8L202.0 301.9L204.0 302.0L206.0 302.3L208.0 302.6L210.0 303.0L212.0 303.4L214.0 303.7L216.0 304.0L218.0 304.1L220.0 304.2L222.0 304.1L224.0 304.0L226.0 303.7L228.0 303.4L230.0 303.0L232.0 302.6L234.0 302.3L236.0 302.0L238.0 301.9L240.0 301.8L242.0 301.9L244.0 302.0L246.0 302.3L248.0 302.6L250.0 303.0L252.0 303.4L254.0 303.7L256.0 304.0L258.0 304.1L260.0 304.2L262.0 304.1L264.0 304.0L266.0 303.7L268.0 303.4L270.0 303.0L272.0 302.6L274.0 302.3L276.0 302.0L278.0 301.9L280.0 301.8L282.0 301.9L284.0 302.0L286.0 302.3L288.0 302.6L290.0 303.0L292.0 303.4L294.0 303.7L296.0 304.0L298.0 304.1L300.0 304.2L302.0 304.1L304.0 304.0L306.0 303.7L308.0 303.4L310.0 303.0L312.0 302.6L314.0 302.3L316.0 302.0L318.0 301.9L320.0 301.8L322.0 301.9L324.0 302.0L326.0 302.3L328.0 302.6L330.0 303.0L332.0 303.4L334.0 303.7L336.0 304.0L338.0 304.1L340.0 304.2L342.0 304.1L344.0 304.0L346.0 303.7L348.0 303.4L350.0 303.0L352.0 302.6L354.0 302.3L356.0 302.0L358.0 301.9L360.0 301.8L362.0 301.9L364.0 302.0L366.0 302.3L368.0 302.6L370.0 303.0L372.0 303.4L374.0 303.7L376.0 304.0L378.0 304.1L380.0 304.2L382.0 304.1L384.0 304.0L386.0 303.7L388.0 303.4L390.0 303.0L392.0 302.6L394.0 302.3L396.0 302.0L398.0 301.9L400.0 301.8L402.0 301.9L404.0 302.0L406.0 302.3L408.0 302.6L410.0 303.0L412.0 303.4L414.0 303.7L416.0 304.0L418.0 304.1L420.0 304.2L422.0 304.1L424.0 304.0L426.0 303.7L428.0 303.4L430.0 303.0L432.0 302.6L434.0 302.3L436.0 302.0L438.0 301.9L440.0 301.8L442.0 301.9L444.0 302.0L446.0 302.3L448.0 302.6L450.0 303.0L452.0 303.4L454.0 303.7L456.0 304.0L458.0 304.1L460.0 304.2L462.0 304.1L464.0 304.0L466.0 303.7L468.0 303.4L470.0 303.0L472.0 302.6L474.0 302.3L476.0 302.0L478.0 301.9L480.0 301.8L482.0 301.9L484.0 302.0L486.0 302.3L488.0 302.6L490.0 303.0L492.0 303.4L494.0 303.7L496.0 304.0L498.0 304.1L500.0 304.2L502.0 304.1L504.0 304.0L506.0 303.7L508.0 303.4L510.0 303.0" fill="none" stroke="#d8f0f2" stroke-width="1.5" opacity="0.8"/>
<g fill="none" stroke="#4c9aae" stroke-width="2.2" stroke-linecap="round" opacity="0.9">
<path d="M190 372C189 360 186 345 182 333M189 355C194 348 198 343 199 335M186 345C181 342 179 338 178 333M191 363C197 359 203 356 207 350"/>
<path d="M207 374C207 366 209 360 214 355M209 364C213 364 216 362 219 358"/>
<path d="M323 372C323 360 322 348 318 336M322 352C326 346 330 342 331 334M320 344C316 341 314 338 313 333"/>
</g>
<path d="M170 355 C185 356 200 360 215 370 C225 377 232 382 240 390 H170Z" fill="#3d7f9c"/>
<path d="M285 390 C300 378 320 368 345 362 C360 359 375 358 390 358 V390Z" fill="#3f84a0" opacity="0.85"/>
<path d="M230 390 C250 380 270 376 300 382 L300 390Z" fill="#3f84a0" opacity="0.6"/>
<path d="M252.0 382.9 L251.5 381.3 L250.6 379.2 L249.6 376.8 L248.3 374.2 L247.0 371.5 L245.7 368.8 L244.5 366.4 L243.5 364.2 L242.6 362.3 L241.8 360.5 L241.0 358.7 L240.2 357.0 L239.4 355.3 L238.6 353.8 L237.9 352.3 L237.1 350.8 L236.4 349.5 L235.7 348.1 L235.0 346.8 L234.3 345.5 L233.5 344.4 L232.8 343.3 L232.0 342.5 L231.0 342.0 L231.0 342.0 L230.4 343.0 L230.1 344.1 L230.0 345.3 L230.0 346.7 L230.1 348.2 L230.2 349.8 L230.5 351.5 L230.9 353.2 L231.3 354.8 L231.7 356.5 L232.3 358.2 L232.9 360.0 L233.7 361.9 L234.5 363.8 L235.4 365.7 L236.5 367.8 L237.7 370.0 L239.2 372.4 L240.8 375.0 L242.4 377.5 L244.0 380.0 L245.6 382.1 L246.9 383.9 L248.0 385.1Z" fill="#8dc56c" stroke="#173e32" stroke-width="1.5" stroke-linejoin="round"/>
<path d="M250.0 384.0 L249.2 382.6 L248.1 380.7 L246.8 378.4 L245.4 375.9 L243.9 373.2 L242.5 370.6 L241.1 368.2 L240.0 366.0 L239.0 364.0 L238.1 362.1 L237.3 360.3 L236.6 358.5 L235.9 356.8 L235.2 355.1 L234.6 353.5 L234.0 352.0 L233.5 350.5 L233.0 349.0 L232.5 347.5" fill="none" stroke="#4f9455" stroke-width="0.9" opacity="0.7"/>
<path d="M254.7 383.0 L254.4 381.2 L253.8 378.8 L253.0 376.0 L252.1 373.0 L251.1 369.8 L250.2 366.6 L249.3 363.4 L248.5 360.6 L247.8 358.0 L247.2 355.3 L246.6 352.6 L246.0 349.8 L245.3 347.0 L244.5 344.2 L243.7 341.3 L242.6 338.3 L241.3 335.3 L239.9 332.3 L238.4 329.4 L236.8 326.5 L235.2 323.8 L233.8 321.2 L232.5 318.9 L231.4 316.8 L230.4 314.8 L229.6 312.9 L228.8 311.0 L228.1 309.2 L227.5 307.6 L226.8 306.1 L226.1 304.9 L225.0 304.0 L225.0 304.0 L224.3 305.2 L224.0 306.5 L223.7 308.2 L223.6 310.0 L223.6 312.1 L223.8 314.3 L224.1 316.7 L224.6 319.2 L225.4 321.9 L226.4 324.7 L227.6 327.5 L228.8 330.5 L230.1 333.4 L231.3 336.3 L232.4 339.1 L233.4 341.7 L234.2 344.2 L234.9 346.8 L235.6 349.5 L236.3 352.2 L237.0 354.9 L237.7 357.7 L238.6 360.5 L239.5 363.4 L240.7 366.4 L241.9 369.5 L243.3 372.7 L244.6 375.8 L246.0 378.7 L247.3 381.3 L248.4 383.4 L249.3 385.0Z" fill="#93c870" stroke="#173e32" stroke-width="1.5" stroke-linejoin="round"/>
<path d="M252.0 384.0 L251.4 382.3 L250.5 380.0 L249.5 377.4 L248.4 374.4 L247.2 371.2 L246.0 368.0 L245.0 364.9 L244.0 362.0 L243.2 359.2 L242.5 356.5 L241.8 353.8 L241.1 351.0 L240.5 348.2 L239.7 345.5 L238.9 342.8 L238.0 340.0 L236.9 337.2 L235.6 334.3 L234.2 331.4 L232.8 328.5 L231.4 325.7 L230.1 322.9 L228.9 320.4 L228.0 318.0 L227.3 315.8" fill="none" stroke="#4f9455" stroke-width="0.9" opacity="0.7"/>
<path d="M260.0 384.6 L260.8 382.2 L261.8 379.1 L263.1 375.2 L264.3 370.7 L265.5 366.0 L266.4 361.1 L266.9 356.2 L266.9 351.4 L266.0 346.7 L264.4 342.2 L262.5 338.1 L260.4 334.1 L258.5 330.5 L256.8 327.1 L255.7 324.2 L255.1 321.6 L255.1 319.1 L255.6 316.3 L256.5 313.2 L257.6 310.0 L258.9 306.7 L260.2 303.4 L261.2 300.0 L261.7 296.6 L261.7 293.4 L261.3 290.5 L260.7 287.8 L259.9 285.4 L259.0 283.3 L258.0 281.5 L257.1 280.1 L256.0 279.0 L256.0 279.0 L255.3 280.4 L255.1 282.2 L255.1 284.2 L255.1 286.3 L255.1 288.6 L255.0 290.9 L254.8 293.2 L254.3 295.4 L253.5 297.6 L252.3 300.2 L250.8 303.1 L249.1 306.3 L247.5 309.9 L246.0 313.7 L245.1 317.9 L244.9 322.4 L245.6 326.9 L247.2 331.2 L249.1 335.3 L251.2 339.1 L253.2 342.8 L255.0 346.3 L256.4 349.5 L257.1 352.6 L257.4 356.0 L257.3 360.1 L256.8 364.5 L256.2 369.0 L255.4 373.4 L254.7 377.3 L254.2 380.8 L254.0 383.4Z" fill="#a2d078" stroke="#173e32" stroke-width="1.5" stroke-linejoin="round"/>
<path d="M257.0 384.0 L257.5 381.5 L258.3 378.2 L259.3 374.3 L260.2 369.9 L261.2 365.3 L261.8 360.6 L262.2 356.1 L262.0 352.0 L261.2 348.1 L259.7 344.3 L257.9 340.4 L255.8 336.6 L253.8 332.9 L252.0 329.2 L250.7 325.5 L250.0 322.0 L250.1 318.5 L250.8 315.0 L252.0 311.6 L253.4 308.2 L254.9 304.9 L256.2 301.8 L257.3 298.8 L258.0 296.0 L258.2 293.3" fill="none" stroke="#4f9455" stroke-width="0.9" opacity="0.7"/>
<path d="M264.4 384.9 L265.6 382.5 L267.1 379.2 L268.9 375.3 L270.7 370.8 L272.6 366.1 L274.2 361.4 L275.5 356.7 L276.2 352.2 L276.2 347.9 L275.5 343.8 L274.3 340.0 L273.1 336.5 L271.9 333.4 L270.9 330.6 L270.4 328.4 L270.4 326.6 L270.8 324.9 L271.6 323.0 L272.9 320.9 L274.5 318.7 L276.3 316.5 L278.1 314.2 L279.7 311.9 L280.9 309.4 L281.6 307.1 L281.9 304.9 L281.9 302.9 L281.8 301.0 L281.5 299.4 L281.2 298.1 L280.7 296.9 L280.0 296.0 L280.0 296.0 L279.1 296.8 L278.6 298.0 L278.1 299.3 L277.7 300.7 L277.2 302.2 L276.6 303.7 L275.9 305.2 L275.1 306.6 L274.0 307.9 L272.5 309.5 L270.6 311.4 L268.5 313.5 L266.3 315.9 L264.3 318.6 L262.6 321.8 L261.6 325.4 L261.6 329.3 L262.3 333.0 L263.4 336.4 L264.7 339.7 L265.9 342.9 L266.9 346.0 L267.6 348.9 L267.8 351.8 L267.4 355.2 L266.6 359.3 L265.4 363.8 L264.0 368.4 L262.6 372.9 L261.2 377.0 L260.2 380.5 L259.6 383.1Z" fill="#5fa35e" stroke="#173e32" stroke-width="1.5" stroke-linejoin="round"/>
<path d="M262.0 384.0 L262.9 381.5 L264.2 378.1 L265.7 374.1 L267.4 369.6 L269.0 365.0 L270.4 360.3 L271.4 355.9 L272.0 352.0 L271.9 348.4 L271.2 344.9 L270.1 341.5 L268.9 338.1 L267.6 334.9 L266.6 331.8 L266.0 328.8 L266.0 326.0 L266.7 323.3 L268.0 320.8 L269.6 318.4 L271.5 316.1 L273.4 314.0 L275.3 311.9 L276.9 309.9 L278.0 308.0 L278.7 306.1" fill="none" stroke="#4f9455" stroke-width="0.9" opacity="0.7"/>
<path d="M267.1 385.0 L268.3 383.2 L269.7 380.8 L271.4 377.9 L273.1 374.7 L274.9 371.3 L276.7 367.8 L278.3 364.5 L279.6 361.5 L280.8 358.6 L281.8 355.9 L282.6 353.2 L283.4 350.6 L284.1 348.1 L284.7 345.8 L285.4 343.5 L286.0 341.4 L286.9 339.2 L287.8 337.0 L288.8 334.7 L289.8 332.4 L290.7 330.3 L291.5 328.3 L292.0 326.6 L292.0 325.0 L292.0 325.0 L290.6 325.7 L289.2 326.8 L287.7 328.3 L286.1 330.1 L284.4 332.0 L282.8 334.1 L281.3 336.3 L280.0 338.6 L278.8 340.9 L277.7 343.3 L276.8 345.8 L275.9 348.3 L275.0 350.8 L274.2 353.3 L273.3 355.9 L272.4 358.5 L271.2 361.4 L269.9 364.7 L268.4 368.3 L267.0 371.8 L265.6 375.2 L264.4 378.3 L263.5 381.0 L262.9 383.0Z" fill="#8dc56c" stroke="#173e32" stroke-width="1.5" stroke-linejoin="round"/>
<path d="M265.0 384.0 L265.9 382.1 L267.1 379.6 L268.5 376.6 L270.1 373.2 L271.7 369.8 L273.3 366.3 L274.7 363.0 L276.0 360.0 L277.1 357.3 L278.0 354.6 L278.8 352.0 L279.6 349.4 L280.4 347.0 L281.2 344.6 L282.1 342.2 L283.0 340.0 L284.1 337.8 L285.3 335.5 L286.6 333.3" fill="none" stroke="#4f9455" stroke-width="0.9" opacity="0.7"/>
<path d="M304.7 383.2 L304.4 381.8 L303.8 380.0 L303.0 377.8 L302.1 375.5 L301.2 373.1 L300.4 370.8 L299.6 368.7 L299.0 367.0 L298.6 365.6 L298.3 364.3 L298.1 363.2 L297.9 362.1 L297.7 360.9 L297.4 359.8 L297.1 358.5 L296.6 357.3 L296.1 356.1 L295.4 354.9 L294.8 353.8 L294.0 352.7 L293.3 351.8 L292.6 351.0 L291.9 350.3 L291.0 350.0 L291.0 350.0 L290.6 350.9 L290.5 351.8 L290.6 352.9 L290.7 354.0 L290.9 355.2 L291.1 356.5 L291.2 357.6 L291.4 358.7 L291.4 359.7 L291.5 360.7 L291.5 361.7 L291.6 362.9 L291.7 364.3 L292.0 365.7 L292.4 367.3 L293.0 369.0 L293.8 371.0 L294.8 373.1 L295.9 375.4 L297.1 377.8 L298.3 380.0 L299.5 382.0 L300.5 383.6 L301.3 384.8Z" fill="#8dc56c" stroke="#173e32" stroke-width="1.5" stroke-linejoin="round"/>
<path d="M303.0 384.0 L302.4 382.7 L301.6 381.0 L300.7 378.9 L299.6 376.6 L298.6 374.3 L297.6 372.0 L296.7 369.8 L296.0 368.0 L295.5 366.4 L295.2 365.0 L294.9 363.7 L294.8 362.5 L294.6 361.3 L294.5 360.2 L294.3 359.1 L294.0 358.0 L293.7 356.8 L293.2 355.7 L292.8 354.5" fill="none" stroke="#4f9455" stroke-width="0.9" opacity="0.7"/>
<path d="M305.9 384.5 L306.7 382.9 L307.6 380.6 L308.7 377.8 L309.8 374.7 L310.8 371.4 L311.7 368.0 L312.3 364.8 L312.4 361.8 L312.0 358.9 L311.1 356.4 L309.8 354.2 L308.5 352.3 L307.2 350.7 L306.1 349.3 L305.3 348.2 L304.9 347.3 L304.6 346.4 L304.4 345.3 L304.4 344.0 L304.4 342.7 L304.5 341.4 L304.6 340.1 L304.5 339.0 L304.0 338.0 L304.0 338.0 L303.1 338.5 L302.3 339.3 L301.5 340.3 L300.7 341.6 L300.0 343.0 L299.4 344.7 L299.1 346.6 L299.1 348.7 L299.7 350.8 L300.7 352.8 L301.8 354.5 L302.9 356.2 L303.9 357.8 L304.7 359.3 L305.3 360.7 L305.6 362.2 L305.6 364.2 L305.3 366.9 L304.7 369.9 L304.1 373.1 L303.4 376.2 L302.7 379.1 L302.3 381.6 L302.1 383.5Z" fill="#a2d078" stroke="#173e32" stroke-width="1.5" stroke-linejoin="round"/>
<path d="M304.0 384.0 L304.5 382.2 L305.2 379.9 L306.0 377.0 L306.9 373.9 L307.8 370.6 L308.5 367.5 L308.9 364.5 L309.0 362.0 L308.6 359.8 L307.9 357.8 L306.9 356.0 L305.7 354.2 L304.5 352.6 L303.4 351.0 L302.5 349.5 L302.0 348.0 L301.8 346.5 L301.9 345.0 L302.2 343.5" fill="none" stroke="#4f9455" stroke-width="0.9" opacity="0.7"/>
<path d="M306.7 384.9 L307.6 383.7 L308.7 382.1 L310.0 380.1 L311.4 377.9 L312.8 375.6 L314.0 373.3 L315.2 371.1 L316.0 369.0 L316.6 367.2 L316.9 365.4 L317.0 363.9 L317.0 362.5 L316.9 361.3 L316.8 360.3 L316.7 359.4 L316.7 358.6 L316.7 357.6 L316.9 356.4 L317.1 355.2 L317.2 354.1 L317.4 352.9 L317.4 351.8 L317.4 350.9 L317.0 350.0 L317.0 350.0 L316.1 350.3 L315.4 350.9 L314.6 351.7 L313.9 352.7 L313.2 353.8 L312.5 354.9 L311.9 356.1 L311.3 357.4 L311.0 358.8 L310.8 360.2 L310.7 361.4 L310.6 362.5 L310.6 363.6 L310.5 364.6 L310.3 365.7 L310.0 367.0 L309.4 368.6 L308.6 370.6 L307.6 372.9 L306.5 375.3 L305.4 377.7 L304.5 379.9 L303.8 381.7 L303.3 383.1Z" fill="#8dc56c" stroke="#173e32" stroke-width="1.5" stroke-linejoin="round"/>
<path d="M305.0 384.0 L305.7 382.7 L306.6 381.0 L307.7 378.9 L308.9 376.6 L310.2 374.3 L311.3 372.0 L312.3 369.8 L313.0 368.0 L313.4 366.4 L313.7 365.0 L313.8 363.7 L313.8 362.5 L313.8 361.3 L313.8 360.2 L313.8 359.1 L314.0 358.0 L314.3 356.8 L314.7 355.7 L315.1 354.5" fill="none" stroke="#4f9455" stroke-width="0.9" opacity="0.7"/>
<g><circle cx="307.4" cy="274.0" r="12.0" fill="#cde9f3" stroke="#1d3a48" stroke-width="1.5"/><text x="300.0" y="278.3" font-family="Liberation Sans" font-weight="bold" font-size="12.0" fill="#1d3a48" stroke="#1d3a48" stroke-width="0.35">O</text><text x="309.1" y="281.4" font-family="Liberation Sans" font-weight="bold" font-size="8.9" fill="#1d3a48" stroke="#1d3a48" stroke-width="0.25">2</text></g>
<g><circle cx="207.4" cy="325.3" r="12.0" fill="#cde9f3" stroke="#1d3a48" stroke-width="1.5"/><text x="200.0" y="329.6" font-family="Liberation Sans" font-weight="bold" font-size="12.0" fill="#1d3a48" stroke="#1d3a48" stroke-width="0.35">O</text><text x="209.1" y="332.7" font-family="Liberation Sans" font-weight="bold" font-size="8.9" fill="#1d3a48" stroke="#1d3a48" stroke-width="0.25">2</text></g>
<circle cx="281.0" cy="281.0" r="7.0" fill="#d8eff5" stroke="#1d3a48" stroke-width="1.2"/>
<circle cx="240.0" cy="294.0" r="4.5" fill="#d8eff5" stroke="#1d3a48" stroke-width="1.2"/>
<circle cx="296.5" cy="296.0" r="3.5" fill="#d8eff5" stroke="#1d3a48" stroke-width="1.2"/>
<circle cx="290.0" cy="313.0" r="5.0" fill="#d8eff5" stroke="#1d3a48" stroke-width="1.2"/>
<circle cx="220.0" cy="344.0" r="3.5" fill="#d8eff5" stroke="#1d3a48" stroke-width="1.2"/>
<circle cx="305" cy="328" r="2.5" fill="#c9eef4" opacity="0.7"/>
<circle cx="300" cy="340" r="2" fill="#c9eef4" opacity="0.7"/>
<circle cx="186" cy="310" r="2" fill="#c9eef4" opacity="0.7"/>
<circle cx="274" cy="340" r="2" fill="#c9eef4" opacity="0.7"/>
</g>
<g clip-path="url(#cL3)">
<rect x="170" y="390" width="340" height="140" fill="url(#p3bg)"/>
<path d="M237.5 420V412C237.5 406 241 404 246 404H298C303 404 306 407 306 412V470" fill="none" stroke="#1d3340" stroke-width="7.5"/>
<path d="M237.5 420V412C237.5 406 241 404 246 404H298C303 404 306 407 306 412V470" fill="none" stroke="#c4ccd2" stroke-width="4.5"/>
<rect x="298.5" y="465" width="15" height="5" fill="#c4ccd2" stroke="#1d3340" stroke-width="1.2"/>
<path d="M200.5 437C200.5 426 218 420 238 420C258 420 276 426 276 437V494C276 506 258 511 238 511C218 511 200.5 506 200.5 494Z" fill="#d0d8de" stroke="#1d3340" stroke-width="1.8"/>
<path d="M201.5 450.5C206 448 210 452 214 450.5C218 448 222 452 226 450.5C230 448 234 452 238 450.5C242 448 246 452 250 450.5C254 448 258 452 262 450.5C266 448 270 452 275 450.5V494C275 505 258 510 238 510C218 510 201.5 505 201.5 494Z" fill="url(#tankW)"/>
<path d="M204 456V490" stroke="#e8f6fb" stroke-width="1.5" stroke-dasharray="4 3" opacity="0.7"/>
<path d="M201.5 450.5C206 448 210 452 214 450.5C218 448 222 452 226 450.5C230 448 234 452 238 450.5C242 448 246 452 250 450.5C254 448 258 452 262 450.5C266 448 270 452 275 450.5" fill="none" stroke="#1d3340" stroke-width="1.1"/>
<path d="M200.5 437H276" stroke="#1d3340" stroke-width="1.2"/>
<path d="M200.5 437C200.5 426 218 420 238 420C258 420 276 426 276 437V494C276 506 258 511 238 511C218 511 200.5 506 200.5 494Z" fill="none" stroke="#1d3340" stroke-width="1.8"/>
<rect x="229" y="416" width="17" height="5" rx="1" fill="#dfe5e9" stroke="#1d3340" stroke-width="1.2"/>
<path d="M205 505V518M271 505V518" stroke="#1d3340" stroke-width="3.5"/>
<path d="M205 505V518M271 505V518" stroke="#b8c2c8" stroke-width="1.6"/>
<path d="M236 496V460H231L238 445L245 460H240V496Z" fill="#eef8fc" stroke="#1d3340" stroke-width="1.2" stroke-linejoin="round"/>
<circle cx="219" cy="463" r="2.5" fill="#dff1fa" stroke="#1d3340" stroke-width="0.9"/>
<circle cx="257" cy="463" r="2.5" fill="#dff1fa" stroke="#1d3340" stroke-width="0.9"/>
<circle cx="225" cy="473" r="3.5" fill="#dff1fa" stroke="#1d3340" stroke-width="0.9"/>
<circle cx="250" cy="473" r="3.5" fill="#dff1fa" stroke="#1d3340" stroke-width="0.9"/>
<circle cx="222" cy="483" r="2.3" fill="#dff1fa" stroke="#1d3340" stroke-width="0.9"/>
<circle cx="253" cy="483" r="2.3" fill="#dff1fa" stroke="#1d3340" stroke-width="0.9"/>
<rect x="215" y="494" width="52" height="6" rx="3" fill="#c9d1d6" stroke="#1d3340" stroke-width="1.3"/>
<rect x="222" y="490" width="5" height="4" fill="#d0d8de" stroke="#1d3340" stroke-width="0.9"/><rect x="250" y="490" width="5" height="4" fill="#d0d8de" stroke="#1d3340" stroke-width="0.9"/>
<path d="M267 497H296" stroke="#1d3340" stroke-width="5"/><path d="M267 497H296" stroke="#c4ccd2" stroke-width="2.6"/>
<rect x="282" y="490" width="6" height="14" rx="1" fill="#c4ccd2" stroke="#1d3340" stroke-width="1.1"/>
<path d="M305 518L312 503H332L338 518Z" fill="#8e989f" stroke="#1d3340" stroke-width="1.2"/>
<path d="M300 470V495C300 505 310 512 321 512C332 512 340 503 340 492C340 480 331 472 321 472H312V470Z" fill="#c8d0d5" stroke="#1d3340" stroke-width="1.6"/>
<circle cx="321.5" cy="492.3" r="12" fill="#9aa5ac" stroke="#1d3340" stroke-width="1.4"/>
<circle cx="321.5" cy="492.3" r="3" fill="#dfe5e9" stroke="#1d3340" stroke-width="0.9"/>
<path d="M321.5 481V489M332 490H325M325 502L322 495M311 497L318 494M313 484L319 490" stroke="#1d3340" stroke-width="1.2"/>
<path d="M190 518H340" stroke="#1d3340" stroke-width="2.4"/>
</g>
<g clip-path="url(#cR1)">
<rect x="515" y="110" width="340" height="140" fill="url(#r1bg)"/>
<path d="M515 236 C580 238 650 236 700 234 C750 231 790 222 850 218 V250 H515Z" fill="#13273a"/>
<circle cx="598" cy="130" r="1" fill="#cfe3ee" opacity="0.8"/>
<circle cx="728" cy="134" r="1.2" fill="#cfe3ee" opacity="0.8"/>
<circle cx="753" cy="145" r="1.3" fill="#cfe3ee" opacity="0.8"/>
<circle cx="792" cy="151" r="1.3" fill="#cfe3ee" opacity="0.8"/>
<circle cx="826" cy="133" r="1.3" fill="#cfe3ee" opacity="0.8"/>
<circle cx="840" cy="188" r="1" fill="#cfe3ee" opacity="0.8"/>
<circle cx="695" cy="168" r="1" fill="#cfe3ee" opacity="0.8"/>
<circle cx="610" cy="145" r="0.9" fill="#cfe3ee" opacity="0.8"/>
<circle cx="560" cy="135" r="0.8" fill="#cfe3ee" opacity="0.8"/>
<circle cx="693" cy="166" r="1" fill="#cfe3ee" opacity="0.8"/>
<g><circle cx="693.5" cy="138.3" r="11.6" fill="#cfe6f2" stroke="#9fcbe0" stroke-width="1.0"/><text x="686.3" y="142.5" font-family="Liberation Sans" font-weight="bold" font-size="11.6" fill="#1d3a48" stroke="#1d3a48" stroke-width="0.35">O</text><text x="695.1" y="145.5" font-family="Liberation Sans" font-weight="bold" font-size="8.6" fill="#1d3a48" stroke="#1d3a48" stroke-width="0.25">2</text></g>
<g><circle cx="774.4" cy="133.6" r="11.6" fill="#cfe6f2" stroke="#9fcbe0" stroke-width="1.0"/><text x="767.2" y="137.8" font-family="Liberation Sans" font-weight="bold" font-size="11.6" fill="#1d3a48" stroke="#1d3a48" stroke-width="0.35">O</text><text x="776.0" y="140.8" font-family="Liberation Sans" font-weight="bold" font-size="8.6" fill="#1d3a48" stroke="#1d3a48" stroke-width="0.25">2</text></g>
<circle cx="667" cy="137" r="3.5" fill="#a9d3e6"/>
<circle cx="659.5" cy="152" r="4" fill="#a9d3e6"/>
<circle cx="664" cy="166" r="2" fill="#a9d3e6"/>
<path d="M808 128.5 A12.5 12.5 0 1 0 823 150.5 A19 19 0 0 1 808 128.5Z" fill="#f3d08a"/>
<path d="M688.3 181.6 L687.5 180.7 L686.8 179.8 L686.1 178.9 L685.5 178.0 L684.9 177.1 L684.3 176.2 L683.8 175.2 L683.3 174.2 L682.8 173.3 L682.4 172.3 L682.1 171.3 L681.7 170.3 L681.5 169.2 L681.2 168.2 L681.0 167.2 L680.6 166.1 L680.3 165.1 L680.0 164.1 L679.8 163.0 L679.6 161.9 L679.4 160.7 L679.2 159.6 L679.1 158.4 L679.0 157.2 L683.5 156.9 L675.2 145.0 L668.5 157.9 L673.0 157.6 L673.1 159.0 L673.3 160.3 L673.4 161.6 L673.7 163.0 L673.9 164.2 L674.2 165.5 L674.5 166.8 L674.9 168.0 L675.3 169.2 L675.9 170.3 L676.6 171.4 L677.3 172.4 L678.0 173.5 L678.7 174.4 L679.5 175.4 L680.3 176.3 L681.1 177.2 L682.0 178.0 L682.8 178.8 L683.8 179.6 L684.7 180.4 L685.7 181.1 L686.7 181.7 L687.7 182.4Z" fill="#b6dcee" stroke="#14283a" stroke-width="0.8"/>
<path d="M767.0 186.3 L768.0 185.4 L769.1 184.5 L770.1 183.6 L771.0 182.6 L771.9 181.6 L772.8 180.6 L773.7 179.6 L774.5 178.6 L775.3 177.5 L776.1 176.5 L776.8 175.3 L777.5 174.2 L778.1 173.1 L778.7 171.9 L779.3 170.7 L779.6 169.5 L780.0 168.2 L780.2 166.9 L780.5 165.6 L780.7 164.3 L780.8 163.0 L780.9 161.7 L781.0 160.3 L781.0 159.0 L785.5 159.0 L778.0 146.6 L770.5 159.0 L775.0 159.0 L775.0 160.1 L774.9 161.3 L774.8 162.4 L774.7 163.5 L774.5 164.6 L774.3 165.7 L774.1 166.8 L773.8 167.9 L773.5 168.9 L773.3 170.1 L773.1 171.2 L772.8 172.3 L772.5 173.4 L772.2 174.5 L771.8 175.6 L771.4 176.7 L770.9 177.9 L770.3 179.0 L769.8 180.1 L769.2 181.2 L768.5 182.3 L767.8 183.4 L767.0 184.5 L766.2 185.7Z" fill="#b6dcee" stroke="#14283a" stroke-width="0.8"/>
<g transform="translate(735.0 169.0) scale(1 1)"><path d="M-2.80 -8.33 Q0.00 -14.76 6.72 -13.89 L8.40 -6.94 Z" fill="#8d9bb0" stroke="#15263a" stroke-width="1.23" stroke-linejoin="round"/><path d="M2.80 7.81 L5.60 12.50 L8.96 6.94 Z" fill="#8d9bb0" stroke="#15263a" stroke-width="1.23" stroke-linejoin="round"/><path d="M-28.00 0 C-25.76 -8.68 -10.08 -9.55 0 -8.68 C7.84 -7.81 12.32 -3.47 15.68 -2.08 L28.00 -10.76 Q23.52 0 28.00 10.76 L15.68 2.08 C12.32 3.47 7.84 8.68 0 8.68 C-10.08 8.68 -25.76 7.81 -28.00 0Z" fill="url(#fishG)" stroke="#15263a" stroke-width="1.36" stroke-linejoin="round"/><path d="M15.68 -2.08 L28.00 -10.76 Q23.52 0 28.00 10.76 L15.68 2.08 Z" fill="#9aa6ba"/><path d="M-28.00 0 C-25.76 -8.68 -10.08 -9.55 0 -8.68 C7.84 -7.81 12.32 -3.47 15.68 -2.08 L28.00 -10.76 Q23.52 0 28.00 10.76 L15.68 2.08 C12.32 3.47 7.84 8.68 0 8.68 C-10.08 8.68 -25.76 7.81 -28.00 0Z" fill="none" stroke="#15263a" stroke-width="1.36" stroke-linejoin="round"/><path d="M-15.12 -6.08 Q-12.32 0 -15.12 6.08" stroke="#15263a" stroke-width="0.99" fill="none"/><path d="M-6.72 0.35 L0.00 0.35 L-2.24 3.82 Z" fill="#7d8ba0" stroke="#15263a" stroke-width="0.74"/><circle cx="-20.72" cy="-1.74" r="1.57" fill="#15263a"/></g>
<g transform="translate(698.0 192.0) scale(-1 1)"><path d="M-1.60 -4.76 Q0.00 -8.43 3.84 -7.94 L4.80 -3.97 Z" fill="#8d9bb0" stroke="#15263a" stroke-width="1.00" stroke-linejoin="round"/><path d="M1.60 4.46 L3.20 7.14 L5.12 3.97 Z" fill="#8d9bb0" stroke="#15263a" stroke-width="1.00" stroke-linejoin="round"/><path d="M-16.00 0 C-14.72 -4.96 -5.76 -5.46 0 -4.96 C4.48 -4.46 7.04 -1.98 8.96 -1.19 L16.00 -6.15 Q13.44 0 16.00 6.15 L8.96 1.19 C7.04 1.98 4.48 4.96 0 4.96 C-5.76 4.96 -14.72 4.46 -16.00 0Z" fill="url(#fishG)" stroke="#15263a" stroke-width="1.10" stroke-linejoin="round"/><path d="M8.96 -1.19 L16.00 -6.15 Q13.44 0 16.00 6.15 L8.96 1.19 Z" fill="#9aa6ba"/><path d="M-16.00 0 C-14.72 -4.96 -5.76 -5.46 0 -4.96 C4.48 -4.46 7.04 -1.98 8.96 -1.19 L16.00 -6.15 Q13.44 0 16.00 6.15 L8.96 1.19 C7.04 1.98 4.48 4.96 0 4.96 C-5.76 4.96 -14.72 4.46 -16.00 0Z" fill="none" stroke="#15263a" stroke-width="1.10" stroke-linejoin="round"/><path d="M-8.64 -3.47 Q-7.04 0 -8.64 3.47" stroke="#15263a" stroke-width="0.80" fill="none"/><path d="M-3.84 0.20 L0.00 0.20 L-1.28 2.18 Z" fill="#7d8ba0" stroke="#15263a" stroke-width="0.60"/><circle cx="-11.84" cy="-0.99" r="0.90" fill="#15263a"/></g>
<g transform="translate(758.6 196.0) scale(1 1)"><path d="M-1.60 -4.76 Q0.00 -8.43 3.84 -7.94 L4.80 -3.97 Z" fill="#8d9bb0" stroke="#15263a" stroke-width="1.00" stroke-linejoin="round"/><path d="M1.60 4.46 L3.20 7.14 L5.12 3.97 Z" fill="#8d9bb0" stroke="#15263a" stroke-width="1.00" stroke-linejoin="round"/><path d="M-16.00 0 C-14.72 -4.96 -5.76 -5.46 0 -4.96 C4.48 -4.46 7.04 -1.98 8.96 -1.19 L16.00 -6.15 Q13.44 0 16.00 6.15 L8.96 1.19 C7.04 1.98 4.48 4.96 0 4.96 C-5.76 4.96 -14.72 4.46 -16.00 0Z" fill="url(#fishG)" stroke="#15263a" stroke-width="1.10" stroke-linejoin="round"/><path d="M8.96 -1.19 L16.00 -6.15 Q13.44 0 16.00 6.15 L8.96 1.19 Z" fill="#9aa6ba"/><path d="M-16.00 0 C-14.72 -4.96 -5.76 -5.46 0 -4.96 C4.48 -4.46 7.04 -1.98 8.96 -1.19 L16.00 -6.15 Q13.44 0 16.00 6.15 L8.96 1.19 C7.04 1.98 4.48 4.96 0 4.96 C-5.76 4.96 -14.72 4.46 -16.00 0Z" fill="none" stroke="#15263a" stroke-width="1.10" stroke-linejoin="round"/><path d="M-8.64 -3.47 Q-7.04 0 -8.64 3.47" stroke="#15263a" stroke-width="0.80" fill="none"/><path d="M-3.84 0.20 L0.00 0.20 L-1.28 2.18 Z" fill="#7d8ba0" stroke="#15263a" stroke-width="0.60"/><circle cx="-11.84" cy="-0.99" r="0.90" fill="#15263a"/></g>
<g transform="translate(727.0 215.5) scale(-1 1)"><path d="M-2.40 -7.14 Q0.00 -12.65 5.76 -11.90 L7.20 -5.95 Z" fill="#8d9bb0" stroke="#15263a" stroke-width="1.06" stroke-linejoin="round"/><path d="M2.40 6.70 L4.80 10.71 L7.68 5.95 Z" fill="#8d9bb0" stroke="#15263a" stroke-width="1.06" stroke-linejoin="round"/><path d="M-24.00 0 C-22.08 -7.44 -8.64 -8.18 0 -7.44 C6.72 -6.70 10.56 -2.98 13.44 -1.79 L24.00 -9.23 Q20.16 0 24.00 9.23 L13.44 1.79 C10.56 2.98 6.72 7.44 0 7.44 C-8.64 7.44 -22.08 6.70 -24.00 0Z" fill="url(#fishG)" stroke="#15263a" stroke-width="1.16" stroke-linejoin="round"/><path d="M13.44 -1.79 L24.00 -9.23 Q20.16 0 24.00 9.23 L13.44 1.79 Z" fill="#9aa6ba"/><path d="M-24.00 0 C-22.08 -7.44 -8.64 -8.18 0 -7.44 C6.72 -6.70 10.56 -2.98 13.44 -1.79 L24.00 -9.23 Q20.16 0 24.00 9.23 L13.44 1.79 C10.56 2.98 6.72 7.44 0 7.44 C-8.64 7.44 -22.08 6.70 -24.00 0Z" fill="none" stroke="#15263a" stroke-width="1.16" stroke-linejoin="round"/><path d="M-12.96 -5.21 Q-10.56 0 -12.96 5.21" stroke="#15263a" stroke-width="0.84" fill="none"/><path d="M-5.76 0.30 L0.00 0.30 L-1.92 3.27 Z" fill="#7d8ba0" stroke="#15263a" stroke-width="0.63"/><circle cx="-17.76" cy="-1.49" r="1.34" fill="#15263a"/></g>
<path d="M810 225 C812 210 808 195 812 185 C814 178 818 172 822 166" stroke="#2f6a55" stroke-width="2.2" fill="none"/>
<path d="M810 205 C816 198 820 190 826 182" stroke="#2f6a55" stroke-width="1.6" fill="none"/>
<path d="M808.0 186.0 Q814.0 169.9 797.0 160.8 Q792.1 179.5 808.0 186.0 Z" fill="#8cc862"/><path d="M808.0 186.0 Q792.1 179.5 797.0 160.8 Z" fill="#5c9e52" opacity="0.9"/><path d="M808.0 186.0 Q814.0 169.9 797.0 160.8 Q792.1 179.5 808.0 186.0 Z" fill="none" stroke="#1a3328" stroke-width="1.1" stroke-linejoin="round"/><path d="M808.0 186.0 L799.2 165.8" stroke="#2f5a3a" stroke-width="0.8"/>
<path d="M818.0 176.0 Q833.4 174.8 833.6 157.6 Q816.6 160.6 818.0 176.0 Z" fill="#8cc862"/><path d="M818.0 176.0 Q816.6 160.6 833.6 157.6 Z" fill="#5c9e52" opacity="0.9"/><path d="M818.0 176.0 Q833.4 174.8 833.6 157.6 Q816.6 160.6 818.0 176.0 Z" fill="none" stroke="#1a3328" stroke-width="1.1" stroke-linejoin="round"/><path d="M818.0 176.0 L830.5 161.3" stroke="#2f5a3a" stroke-width="0.8"/>
<path d="M806.0 197.0 Q806.5 180.8 788.6 176.9 Q789.9 195.2 806.0 197.0 Z" fill="#8cc862"/><path d="M806.0 197.0 Q789.9 195.2 788.6 176.9 Z" fill="#5c9e52" opacity="0.9"/><path d="M806.0 197.0 Q806.5 180.8 788.6 176.9 Q789.9 195.2 806.0 197.0 Z" fill="none" stroke="#1a3328" stroke-width="1.1" stroke-linejoin="round"/><path d="M806.0 197.0 L792.1 180.9" stroke="#2f5a3a" stroke-width="0.8"/>
<path d="M816.0 196.0 Q831.6 196.3 833.6 179.0 Q816.3 180.4 816.0 196.0 Z" fill="#8cc862"/><path d="M816.0 196.0 Q816.3 180.4 833.6 179.0 Z" fill="#5c9e52" opacity="0.9"/><path d="M816.0 196.0 Q831.6 196.3 833.6 179.0 Q816.3 180.4 816.0 196.0 Z" fill="none" stroke="#1a3328" stroke-width="1.1" stroke-linejoin="round"/><path d="M816.0 196.0 L830.1 182.4" stroke="#2f5a3a" stroke-width="0.8"/>
<path d="M808.0 211.0 Q805.9 198.5 791.8 199.4 Q795.5 213.1 808.0 211.0 Z" fill="#8cc862"/><path d="M808.0 211.0 Q795.5 213.1 791.8 199.4 Z" fill="#5c9e52" opacity="0.9"/><path d="M808.0 211.0 Q805.9 198.5 791.8 199.4 Q795.5 213.1 808.0 211.0 Z" fill="none" stroke="#1a3328" stroke-width="1.1" stroke-linejoin="round"/><path d="M808.0 211.0 L795.0 201.7" stroke="#2f5a3a" stroke-width="0.8"/>
<path d="M816.0 211.0 Q829.2 211.8 832.6 197.3 Q817.7 197.9 816.0 211.0 Z" fill="#8cc862"/><path d="M816.0 211.0 Q817.7 197.9 832.6 197.3 Z" fill="#5c9e52" opacity="0.9"/><path d="M816.0 211.0 Q829.2 211.8 832.6 197.3 Q817.7 197.9 816.0 211.0 Z" fill="none" stroke="#1a3328" stroke-width="1.1" stroke-linejoin="round"/><path d="M816.0 211.0 L829.3 200.0" stroke="#2f5a3a" stroke-width="0.8"/>
</g>
<g clip-path="url(#cR2)">
<rect x="515" y="250" width="340" height="140" fill="url(#r2bg)"/>
<path d="M515 352 C560 350 600 354 650 351 C700 348 730 350 760 347 C780 344 790 348 800 346 C820 344 835 348 850 347 V395 H515Z" fill="#75644e" filter="url(#blur2)"/>
<path d="M515 366 C600 362 700 368 850 362 V395 H515Z" fill="#5e4b3a" opacity="0.6" filter="url(#blur2)"/>
<path d="M720 356 C740 352 760 356 780 353 M735 362 C750 359 770 362 790 359" stroke="#8a7860" stroke-width="2" fill="none" opacity="0.6"/>
<g><path d="M726.0 294.6L728.4 297.8M718.2 284.2L715.8 281.0M729.3 291.9L732.0 294.9M720.5 282.4L717.8 279.4M733.4 285.8L737.1 287.2M721.2 281.3L717.4 279.9M733.8 284.3L736.5 287.3M725.2 274.7L722.5 271.7M736.1 282.8L738.1 286.3M729.6 271.6L727.7 268.1M718.1 297.2L717.2 300.1M714.9 295.0L712.5 296.9M713.5 291.4L710.5 291.7M737.6 270.1L738.8 267.3M740.5 272.6L743.1 271.0M741.5 276.3L744.5 276.4" stroke="#173a2c" stroke-width="1.4" stroke-linecap="round"/><path d="M720.0 291.0 L720.4 290.7 L720.9 290.3 L721.5 289.9 L722.1 289.4 L722.8 288.9 L723.5 288.3 L724.2 287.7 L724.9 287.1 L725.5 286.6 L726.0 286.0 L726.4 285.4 L726.7 284.8 L727.0 284.2 L727.3 283.6 L727.5 282.9 L727.7 282.3 L728.0 281.7 L728.3 281.1 L728.6 280.5 L729.0 280.0 L729.5 279.5 L730.1 279.0 L730.8 278.5 L731.5 278.1 L732.2 277.6 L732.9 277.2 L733.5 276.8 L734.1 276.5 L734.6 276.2 L735.0 276.0" fill="none" stroke="#173a2c" stroke-width="15.6" stroke-linecap="round" stroke-linejoin="round"/><path d="M720.0 291.0 L720.4 290.7 L720.9 290.3 L721.5 289.9 L722.1 289.4 L722.8 288.9 L723.5 288.3 L724.2 287.7 L724.9 287.1 L725.5 286.6 L726.0 286.0 L726.4 285.4 L726.7 284.8 L727.0 284.2 L727.3 283.6 L727.5 282.9 L727.7 282.3 L728.0 281.7 L728.3 281.1 L728.6 280.5 L729.0 280.0 L729.5 279.5 L730.1 279.0 L730.8 278.5 L731.5 278.1 L732.2 277.6 L732.9 277.2 L733.5 276.8 L734.1 276.5 L734.6 276.2 L735.0 276.0" fill="none" stroke="#aedb86" stroke-width="13.0" stroke-linecap="round" stroke-linejoin="round"/><ellipse cx="727.5" cy="282.9" rx="3.9" ry="2.9" fill="#4f9a5a" opacity="0.8"/></g>
<g><path d="M796.6 278.8L795.3 282.6M800.1 268.9L801.4 265.1M800.5 280.2L799.1 283.9M804.1 270.3L805.5 266.6M803.7 281.5L802.2 285.1M807.8 271.8L809.3 268.1M790.9 274.4L788.0 275.1M791.0 271.3L788.2 270.3M792.9 268.8L791.1 266.3M814.1 277.0L817.1 276.4M813.8 280.0L816.6 281.2M811.8 282.4L813.5 284.9" stroke="#173a2c" stroke-width="1.4" stroke-linecap="round"/><path d="M796.0 273.0 L796.4 273.1 L797.0 273.3 L797.6 273.6 L798.3 273.8 L799.1 274.1 L799.9 274.4 L800.8 274.7 L801.6 275.0 L802.3 275.2 L803.0 275.5 L803.7 275.8 L804.4 276.0 L805.1 276.3 L805.8 276.6 L806.4 276.9 L807.1 277.2 L807.7 277.4 L808.2 277.7 L808.6 277.9 L809.0 278.0" fill="none" stroke="#173a2c" stroke-width="13.1" stroke-linecap="round" stroke-linejoin="round"/><path d="M796.0 273.0 L796.4 273.1 L797.0 273.3 L797.6 273.6 L798.3 273.8 L799.1 274.1 L799.9 274.4 L800.8 274.7 L801.6 275.0 L802.3 275.2 L803.0 275.5 L803.7 275.8 L804.4 276.0 L805.1 276.3 L805.8 276.6 L806.4 276.9 L807.1 277.2 L807.7 277.4 L808.2 277.7 L808.6 277.9 L809.0 278.0" fill="none" stroke="#9ed07e" stroke-width="10.5" stroke-linecap="round" stroke-linejoin="round"/><ellipse cx="803.0" cy="275.5" rx="3.1" ry="2.3" fill="#4f9a5a" opacity="0.8"/></g>
<g><path d="M822.9 304.7L825.2 308.0M817.2 296.5L814.9 293.2M826.8 301.8L829.4 304.7M820.1 294.3L817.5 291.3M830.0 298.0L833.3 300.3M821.8 292.2L818.6 289.9M816.3 306.7L815.3 309.5M813.9 304.9L811.5 306.7M813.0 302.1L810.0 302.2M828.0 287.0L828.0 284.0M830.8 287.9L832.5 285.4M832.7 290.2L835.5 289.1" stroke="#3a1a1e" stroke-width="1.4" stroke-linecap="round"/><path d="M818.0 302.0 L818.4 301.7 L818.8 301.4 L819.4 301.0 L820.1 300.6 L820.8 300.1 L821.5 299.6 L822.2 299.1 L822.8 298.5 L823.5 298.0 L824.0 297.5 L824.5 297.0 L825.0 296.4 L825.5 295.8 L825.9 295.1 L826.4 294.5 L826.8 293.9 L827.2 293.3 L827.5 292.8 L827.8 292.3 L828.0 292.0" fill="none" stroke="#3a1a1e" stroke-width="12.6" stroke-linecap="round" stroke-linejoin="round"/><path d="M818.0 302.0 L818.4 301.7 L818.8 301.4 L819.4 301.0 L820.1 300.6 L820.8 300.1 L821.5 299.6 L822.2 299.1 L822.8 298.5 L823.5 298.0 L824.0 297.5 L824.5 297.0 L825.0 296.4 L825.5 295.8 L825.9 295.1 L826.4 294.5 L826.8 293.9 L827.2 293.3 L827.5 292.8 L827.8 292.3 L828.0 292.0" fill="none" stroke="#dc5a48" stroke-width="10.0" stroke-linecap="round" stroke-linejoin="round"/><ellipse cx="824.0" cy="297.5" rx="3.0" ry="2.2" fill="#b83a34" opacity="0.8"/></g>
<g><circle cx="762.5" cy="281.0" r="12.0" fill="#d6eef6" stroke="#1d3a48" stroke-width="1.5"/><text x="755.1" y="285.3" font-family="Liberation Sans" font-weight="bold" font-size="12.0" fill="#1d3a48" stroke="#1d3a48" stroke-width="0.35">O</text><text x="764.2" y="288.4" font-family="Liberation Sans" font-weight="bold" font-size="8.9" fill="#1d3a48" stroke="#1d3a48" stroke-width="0.25">2</text></g>
<g><circle cx="726.0" cy="333.4" r="12.3" fill="#d6eef6" stroke="#1d3a48" stroke-width="1.5"/><text x="718.4" y="337.8" font-family="Liberation Sans" font-weight="bold" font-size="12.3" fill="#1d3a48" stroke="#1d3a48" stroke-width="0.35">O</text><text x="727.7" y="341.0" font-family="Liberation Sans" font-weight="bold" font-size="9.1" fill="#1d3a48" stroke="#1d3a48" stroke-width="0.25">2</text></g>
<g><circle cx="822.7" cy="328.9" r="12.3" fill="#d6eef6" stroke="#1d3a48" stroke-width="1.5"/><text x="815.1" y="333.3" font-family="Liberation Sans" font-weight="bold" font-size="12.3" fill="#1d3a48" stroke="#1d3a48" stroke-width="0.35">O</text><text x="824.4" y="336.5" font-family="Liberation Sans" font-weight="bold" font-size="9.1" fill="#1d3a48" stroke="#1d3a48" stroke-width="0.25">2</text></g>
<path d="M739.2 294.4 L740.4 295.5 L741.6 296.6 L742.6 297.7 L743.7 298.9 L744.6 300.0 L745.5 301.2 L746.3 302.4 L747.1 303.6 L747.9 304.8 L748.5 306.0 L749.1 307.3 L749.7 308.6 L750.2 309.9 L750.6 311.2 L751.0 312.5 L751.5 313.8 L752.0 315.1 L752.4 316.4 L752.8 317.8 L753.1 319.2 L753.4 320.6 L753.6 322.0 L753.8 323.5 L753.9 325.0 L746.4 325.6 L758.5 340.3 L768.4 324.0 L760.9 324.6 L760.7 322.8 L760.5 321.1 L760.3 319.4 L759.9 317.7 L759.6 316.1 L759.1 314.5 L758.6 312.9 L758.1 311.3 L757.5 309.8 L756.7 308.4 L755.8 307.0 L754.9 305.6 L754.0 304.3 L752.9 303.1 L751.9 301.9 L750.8 300.7 L749.6 299.6 L748.4 298.5 L747.2 297.4 L745.9 296.4 L744.6 295.4 L743.2 294.5 L741.8 293.6 L740.4 292.8Z" fill="#ef7864" stroke="#3a1a1e" stroke-width="1.3" stroke-linejoin="miter"/>
<path d="M780.5 339.9 L780.6 337.7 L780.7 335.5 L780.9 333.3 L781.1 331.3 L781.4 329.3 L781.7 327.4 L782.1 325.6 L782.6 323.8 L783.1 322.2 L783.6 320.6 L784.2 319.1 L784.8 317.7 L785.5 316.3 L786.2 315.1 L787.0 313.9 L787.6 312.8 L788.3 311.7 L789.0 310.6 L789.8 309.6 L790.6 308.7 L791.5 307.9 L792.4 307.1 L793.4 306.3 L794.4 305.6 L797.8 310.9 L803.0 296.0 L787.2 294.5 L790.6 299.8 L789.3 300.7 L788.0 301.7 L786.7 302.8 L785.6 303.9 L784.5 305.1 L783.5 306.4 L782.5 307.8 L781.6 309.2 L780.8 310.7 L780.2 312.3 L779.6 314.0 L779.2 315.7 L778.8 317.4 L778.4 319.3 L778.2 321.1 L778.0 323.0 L777.8 325.0 L777.8 327.0 L777.7 329.0 L777.8 331.1 L777.9 333.3 L778.0 335.5 L778.2 337.7 L778.5 340.1Z" fill="#ef7864" stroke="#3a1a1e" stroke-width="1.3" stroke-linejoin="miter"/>
<ellipse cx="748.9" cy="351.6" rx="7" ry="4.5" transform="rotate(20 748.9 351.6)" fill="#d9975e" stroke="#4a3020" stroke-width="0.9"/>
<ellipse cx="798.9" cy="348" rx="7" ry="4.2" transform="rotate(-30 798.9 348)" fill="#d9975e" stroke="#4a3020" stroke-width="0.9"/>
<ellipse cx="781.8" cy="358.4" rx="5" ry="3.5" transform="rotate(20 781.8 358.4)" fill="#d9975e" stroke="#4a3020" stroke-width="0.9"/>
<circle cx="769.3" cy="347" r="3.5" fill="#d9975e" stroke="#4a3020" stroke-width="0.9"/>
<circle cx="810.2" cy="359.5" r="3.5" fill="#d9975e" stroke="#4a3020" stroke-width="0.9"/>
<circle cx="773.9" cy="369.8" r="3.5" fill="#d9975e" stroke="#4a3020" stroke-width="0.9"/>
<path d="M789 369L801 365" stroke="#4a3020" stroke-width="5" stroke-linecap="round"/><path d="M789 369L801 365" stroke="#d8d9b0" stroke-width="3" stroke-linecap="round"/>
<circle cx="734.5" cy="305" r="2.3" fill="none" stroke="#1d3340" stroke-width="1.1"/>
<circle cx="795" cy="332" r="1.8" fill="none" stroke="#1d3340" stroke-width="1.1"/>
<circle cx="804.5" cy="335.5" r="1.6" fill="none" stroke="#1d3340" stroke-width="1.1"/>
<circle cx="731" cy="362" r="1.5" fill="#2d2a25"/>
<circle cx="740" cy="366" r="1.3" fill="#2d2a25"/>
<circle cx="790" cy="276" r="0" fill="#2d2a25"/>
<circle cx="825" cy="275" r="1.4" fill="#2d2a25"/>
</g>
<g clip-path="url(#cR3)">
<rect x="515" y="390" width="340" height="140" fill="url(#r3bg)"/>
<path d="M740 499L733.5 518M792 499L798.5 518" stroke="#2a2a33" stroke-width="5"/><path d="M740 499L733.5 518M792 499L798.5 518" stroke="#9aa3ab" stroke-width="2.6"/>
<path d="M709 518H834" stroke="#2a2a33" stroke-width="2.2"/>
<path d="M720.5 445V489C720.5 497 740 501 767 501C794 501 813.5 497 813.5 489V445Z" fill="#a3acb4" stroke="#2a2a33" stroke-width="1.8"/>
<path d="M725.5 450V487C725.5 492 744 495.5 767 495.5C790 495.5 808.5 492 808.5 487V450C808.5 456 790 459.5 767 459.5C744 459.5 725.5 456 725.5 450Z" fill="url(#potG)" stroke="#2a2a33" stroke-width="1.2"/>
<ellipse cx="767" cy="445.3" rx="46.5" ry="13" fill="#b9c1c8" stroke="#2a2a33" stroke-width="1.8"/>
<ellipse cx="767" cy="446" rx="40" ry="9.5" fill="#86cce6" stroke="#2a2a33" stroke-width="1.1"/>
<path d="M740 445C750 442 760 448 772 445M760 450C770 447 780 451 792 448" stroke="#d8f2fa" stroke-width="1" fill="none"/>
<path d="M733 464V483" stroke="#ffd6b8" stroke-width="2" stroke-linecap="round"/><circle cx="733" cy="487.5" r="1.1" fill="#ffd6b8"/>
<path d="M757 468C754 472 760 475 757 479C754 483 760 486 757 490" stroke="#ffe6d4" stroke-width="1.6" fill="none"/>
<path d="M757 404C754 408 760 411 757 414C754 417 760 420 757 424" stroke="#2a2a33" stroke-width="1.7" fill="none"/>
<path d="M766 468C763 472 769 475 766 479C763 483 769 486 766 490" stroke="#ffe6d4" stroke-width="1.6" fill="none"/>
<path d="M766 404C763 408 769 411 766 414C763 417 769 420 766 424" stroke="#2a2a33" stroke-width="1.7" fill="none"/>
<path d="M776 468C773 472 779 475 776 479C773 483 779 486 776 490" stroke="#ffe6d4" stroke-width="1.6" fill="none"/>
<path d="M776 404C773 408 779 411 776 414C773 417 779 420 776 424" stroke="#2a2a33" stroke-width="1.7" fill="none"/>
<circle cx="742.5" cy="432" r="6.5" fill="#acdcf0" stroke="#2a2a33" stroke-width="1.1"/>
<circle cx="795" cy="411.8" r="7" fill="#acdcf0" stroke="#2a2a33" stroke-width="1.1"/>
<circle cx="796.2" cy="435.3" r="5" fill="#acdcf0" stroke="#2a2a33" stroke-width="1.1"/>
<circle cx="729" cy="421.4" r="4.5" fill="#acdcf0" stroke="#2a2a33" stroke-width="1.1"/>
<circle cx="740.3" cy="411" r="3" fill="#acdcf0" stroke="#2a2a33" stroke-width="1.1"/>
<circle cx="786" cy="424" r="3" fill="#acdcf0" stroke="#2a2a33" stroke-width="1.1"/>
<circle cx="807.4" cy="424" r="3" fill="#acdcf0" stroke="#2a2a33" stroke-width="1.1"/>
<path d="M765.4 441.0A3.6 3.6 0 0 1 772.6 441.0" fill="#acdcf0" stroke="#2a2a33" stroke-width="1.1"/>
<path d="M754.4 449.0A3.6 3.6 0 0 1 761.6 449.0" fill="#acdcf0" stroke="#2a2a33" stroke-width="1.1"/>
<path d="M781.4 448.0A3.6 3.6 0 0 1 788.6 448.0" fill="#acdcf0" stroke="#2a2a33" stroke-width="1.1"/>
</g>
<ellipse cx="512" cy="320" rx="179" ry="188" fill="#ffffff"/>
<g clip-path="url(#halfL)"><ellipse cx="512" cy="320" rx="172" ry="181" fill="url(#circL)" stroke="#13232f" stroke-width="2.6"/></g>
<g clip-path="url(#halfR)"><ellipse cx="512" cy="320" rx="172" ry="181" fill="url(#circR)" stroke="#13232f" stroke-width="2.6"/></g>
<rect x="504" y="130" width="16" height="380" fill="#ffffff"/>
<path d="M504 139.2V500.8M520 139.2V500.8" stroke="#13232f" stroke-width="2.6"/>
<path d="M371 352 C384 402 420 445 467 464" stroke="#a4def4" stroke-width="3.5" fill="none" opacity="0.8"/>
<path d="M463 457 L478 468.5 L460 471Z" fill="#a4def4" opacity="0.8"/>
<path d="M533 170 C560 175 585 185 602 203" stroke="#fbc0a8" stroke-width="3.5" fill="none" opacity="0.75"/>
<path d="M594 202 L607 208 L603 194Z" fill="#fbc0a8" opacity="0.75"/>
<path d="M558 466 C605 448 645 405 653 345" stroke="#86bfd8" stroke-width="3.5" fill="none" opacity="0.6"/>
<path d="M646 348 L654 333 L660 349Z" fill="#86bfd8" opacity="0.6"/>
<path d="M512 494V538" stroke="#13232f" stroke-width="2.4"/>
<path d="M504 308.6H490.7L511.8 345L533.3 308.6H520" fill="#ffffff" stroke="#13232f" stroke-width="2.4" stroke-linejoin="miter"/>
<path d="M504 460H491L512 494.6L533 460H520" fill="#ffffff" stroke="#13232f" stroke-width="2.4" stroke-linejoin="miter"/>
<path d="M351.1 193.5 L354.5 194.4 L357.9 195.4 L361.3 196.4 L364.6 197.6 L367.9 198.8 L371.1 200.1 L374.3 201.5 L377.5 203.0 L380.7 204.5 L383.8 206.1 L387.0 207.9 L390.0 209.6 L393.1 211.5 L396.1 213.5 L399.1 215.5 L402.1 217.7 L405.0 219.9 L408.0 222.2 L410.9 224.6 L413.7 227.0 L416.6 229.6 L419.4 232.2 L422.2 235.0 L424.9 237.8 L415.9 246.4 L452.0 254.8 L445.1 218.4 L436.1 227.0 L433.1 224.0 L430.1 221.0 L427.1 218.2 L424.0 215.4 L420.9 212.7 L417.7 210.1 L414.5 207.6 L411.3 205.2 L408.0 202.8 L404.7 200.6 L401.4 198.4 L398.0 196.4 L394.6 194.4 L391.2 192.5 L387.7 190.7 L384.2 189.0 L380.6 187.3 L377.0 185.8 L373.4 184.3 L369.8 183.0 L366.1 181.7 L362.4 180.6 L358.7 179.5 L354.9 178.5Z" fill="url(#greenA)" stroke="#13232f" stroke-width="2.5" stroke-linejoin="miter"/>
<path d="M311.0 325.9 L345.6 325.9 L380.3 325.9 L380.3 338.1 L411.3 317.9 L380.3 297.7 L380.3 309.9 L345.6 309.9 L311.0 309.9Z" fill="url(#greenA)" stroke="#13232f" stroke-width="2.5" stroke-linejoin="miter"/>
<path d="M343.2 462.6 L347.8 460.7 L352.3 458.7 L356.7 456.8 L361.1 454.7 L365.4 452.7 L369.6 450.6 L373.8 448.4 L377.9 446.2 L381.9 444.0 L385.9 441.7 L389.8 439.4 L393.6 437.1 L397.4 434.7 L401.1 432.3 L404.8 429.8 L408.4 427.3 L411.9 424.7 L415.3 422.1 L418.7 419.5 L422.0 416.8 L425.3 414.0 L428.5 411.3 L431.6 408.5 L434.6 405.6 L443.1 414.5 L451.8 378.6 L415.5 385.5 L424.0 394.4 L421.1 397.0 L418.2 399.7 L415.2 402.3 L412.2 404.8 L409.1 407.3 L405.9 409.8 L402.7 412.2 L399.3 414.7 L396.0 417.0 L392.5 419.4 L389.0 421.7 L385.5 423.9 L381.8 426.1 L378.1 428.3 L374.3 430.5 L370.5 432.6 L366.6 434.7 L362.6 436.7 L358.6 438.7 L354.5 440.7 L350.3 442.6 L346.1 444.5 L341.7 446.4 L337.4 448.2Z" fill="url(#greenA)" stroke="#13232f" stroke-width="2.5" stroke-linejoin="miter"/>
<path d="M581.8 254.8 L584.9 251.4 L588.1 248.1 L591.1 244.9 L594.2 241.9 L597.2 238.9 L600.2 236.0 L603.2 233.2 L606.1 230.6 L609.0 228.0 L611.9 225.5 L614.7 223.2 L617.5 220.9 L620.3 218.8 L623.0 216.7 L625.7 214.7 L628.4 212.9 L631.1 211.1 L633.7 209.5 L636.2 207.9 L638.8 206.5 L641.3 205.1 L643.7 203.8 L646.2 202.7 L648.5 201.6 L653.0 212.0 L672.2 183.1 L638.0 177.0 L642.5 187.4 L639.7 188.6 L636.9 190.0 L634.0 191.4 L631.2 192.9 L628.4 194.6 L625.5 196.3 L622.6 198.1 L619.7 200.1 L616.8 202.1 L613.8 204.2 L610.9 206.5 L607.9 208.8 L604.9 211.2 L601.9 213.7 L598.8 216.3 L595.7 219.0 L592.7 221.9 L589.5 224.8 L586.4 227.8 L583.3 230.9 L580.1 234.1 L576.9 237.4 L573.6 240.8 L570.4 244.2Z" fill="url(#redA)" stroke="#1f1a22" stroke-width="2.5" stroke-linejoin="miter"/>
<path d="M610.0 326.2 L646.0 326.2 L682.0 326.2 L682.0 336.8 L712.5 318.0 L682.0 299.2 L682.0 309.8 L646.0 309.8 L610.0 309.8" fill="url(#redB)" stroke="#1f1a22" stroke-width="2.5" stroke-linejoin="miter"/>
<path d="M571.9 386.8 L576.6 391.4 L581.2 395.9 L585.7 400.2 L590.2 404.4 L594.6 408.5 L598.9 412.4 L603.2 416.1 L607.4 419.8 L611.6 423.3 L615.7 426.6 L619.7 429.8 L623.7 432.9 L627.6 435.9 L631.5 438.6 L635.3 441.3 L639.0 443.8 L642.7 446.2 L646.3 448.4 L649.9 450.5 L653.4 452.5 L656.9 454.3 L660.3 456.0 L663.7 457.5 L667.0 458.9 L662.9 469.3 L696.8 462.5 L676.9 434.1 L672.8 444.5 L669.9 443.3 L666.9 442.0 L663.9 440.5 L660.8 438.8 L657.6 437.1 L654.3 435.1 L651.0 433.1 L647.5 430.9 L644.0 428.5 L640.4 426.0 L636.8 423.4 L633.1 420.6 L629.3 417.6 L625.4 414.6 L621.5 411.3 L617.5 408.0 L613.4 404.5 L609.2 400.8 L605.0 397.0 L600.7 393.1 L596.4 389.0 L591.9 384.7 L587.4 380.3 L582.9 375.8Z" fill="url(#redA)" stroke="#1f1a22" stroke-width="2.5" stroke-linejoin="miter"/>
<text x="17.0" y="170.3" font-family="Liberation Sans" font-weight="bold" font-size="14" fill="#141414" stroke="#141414" stroke-width="0.2" textLength="150.5" lengthAdjust="spacingAndGlyphs">Atmospheric Diffusion:</text>
<text x="69.0" y="186.5" font-family="Liberation Sans" font-weight="normal" font-size="14" fill="#2b2b2b" stroke="#2b2b2b" stroke-width="0.3" textLength="95.0" lengthAdjust="spacingAndGlyphs">Rougher water</text>
<text x="35.5" y="202.8" font-family="Liberation Sans" font-weight="normal" font-size="14" fill="#2b2b2b" stroke="#2b2b2b" stroke-width="0.3" textLength="128.5" lengthAdjust="spacingAndGlyphs">increases exchange</text>
<text x="56.8" y="307.4" font-family="Liberation Sans" font-weight="bold" font-size="14" fill="#141414" stroke="#141414" stroke-width="0.2" textLength="106.2" lengthAdjust="spacingAndGlyphs">Photosynthesis:</text>
<text x="39.5" y="324.0" font-family="Liberation Sans" font-weight="normal" font-size="14" fill="#2b2b2b" stroke="#2b2b2b" stroke-width="0.3" textLength="123.5" lengthAdjust="spacingAndGlyphs">Plants release pure</text>
<text x="47.2" y="339.8" font-family="Liberation Sans" font-weight="normal" font-size="14" fill="#2b2b2b" stroke="#2b2b2b" stroke-width="0.3" textLength="10.2" lengthAdjust="spacingAndGlyphs">O</text>
<text x="57.5" y="342.8" font-family="Liberation Sans" font-size="10.5" fill="#2b2b2b" stroke="#2b2b2b" stroke-width="0.2" textLength="6.0" lengthAdjust="spacingAndGlyphs">2</text>
<text x="65.8" y="339.8" font-family="Liberation Sans" font-weight="normal" font-size="14" fill="#2b2b2b" stroke="#2b2b2b" stroke-width="0.3" textLength="96.6" lengthAdjust="spacingAndGlyphs">during daylight</text>
<text x="24.1" y="447.0" font-family="Liberation Sans" font-weight="bold" font-size="14" fill="#141414" stroke="#141414" stroke-width="0.2" textLength="138.4" lengthAdjust="spacingAndGlyphs">Mechanical Aeration:</text>
<text x="89.8" y="463.5" font-family="Liberation Sans" font-weight="normal" font-size="14" fill="#2b2b2b" stroke="#2b2b2b" stroke-width="0.3" textLength="37.3" lengthAdjust="spacingAndGlyphs">Force</text>
<text x="129.8" y="463.5" font-family="Liberation Sans" font-weight="normal" font-size="14" fill="#2b2b2b" stroke="#2b2b2b" stroke-width="0.3" textLength="10.2" lengthAdjust="spacingAndGlyphs">O</text>
<text x="139.9" y="466.5" font-family="Liberation Sans" font-size="10.5" fill="#2b2b2b" stroke="#2b2b2b" stroke-width="0.2" textLength="6.0" lengthAdjust="spacingAndGlyphs">2</text>
<text x="150.8" y="463.5" font-family="Liberation Sans" font-weight="normal" font-size="14" fill="#2b2b2b" stroke="#2b2b2b" stroke-width="0.3" textLength="10.6" lengthAdjust="spacingAndGlyphs">in</text>
<text x="46.9" y="479.5" font-family="Liberation Sans" font-weight="normal" font-size="14" fill="#2b2b2b" stroke="#2b2b2b" stroke-width="0.3" textLength="115.6" lengthAdjust="spacingAndGlyphs">industrial settings</text>
<text x="857.0" y="170.3" font-family="Liberation Sans" font-weight="bold" font-size="14" fill="#141414" stroke="#141414" stroke-width="0.2" textLength="81.5" lengthAdjust="spacingAndGlyphs">Respiration:</text>
<text x="941.2" y="170.3" font-family="Liberation Sans" font-weight="normal" font-size="14" fill="#2b2b2b" stroke="#2b2b2b" stroke-width="0.3" textLength="28.0" lengthAdjust="spacingAndGlyphs">Fish,</text>
<text x="857.0" y="186.5" font-family="Liberation Sans" font-weight="normal" font-size="14" fill="#2b2b2b" stroke="#2b2b2b" stroke-width="0.3" textLength="131.9" lengthAdjust="spacingAndGlyphs">plants (at night), and</text>
<text x="857.0" y="202.8" font-family="Liberation Sans" font-weight="normal" font-size="14" fill="#2b2b2b" stroke="#2b2b2b" stroke-width="0.3" textLength="124.0" lengthAdjust="spacingAndGlyphs">microbes consume</text>
<text x="983.3" y="202.8" font-family="Liberation Sans" font-weight="normal" font-size="14" fill="#2b2b2b" stroke="#2b2b2b" stroke-width="0.3" textLength="10.2" lengthAdjust="spacingAndGlyphs">O</text>
<text x="993.1" y="205.8" font-family="Liberation Sans" font-size="10.5" fill="#2b2b2b" stroke="#2b2b2b" stroke-width="0.2" textLength="6.0" lengthAdjust="spacingAndGlyphs">2</text>
<text x="857.0" y="307.4" font-family="Liberation Sans" font-weight="bold" font-size="14" fill="#141414" stroke="#141414" stroke-width="0.2" textLength="145.0" lengthAdjust="spacingAndGlyphs">Decomposition (BOD):</text>
<text x="857.0" y="323.2" font-family="Liberation Sans" font-weight="normal" font-size="14" fill="#2b2b2b" stroke="#2b2b2b" stroke-width="0.3" textLength="130.0" lengthAdjust="spacingAndGlyphs">Bacteria use oxygen</text>
<text x="857.0" y="339.8" font-family="Liberation Sans" font-weight="normal" font-size="14" fill="#2b2b2b" stroke="#2b2b2b" stroke-width="0.3" textLength="136.9" lengthAdjust="spacingAndGlyphs">breaking down waste</text>
<text x="857.0" y="447.0" font-family="Liberation Sans" font-weight="bold" font-size="14" fill="#141414" stroke="#141414" stroke-width="0.2" textLength="132.7" lengthAdjust="spacingAndGlyphs">Rising Temperature:</text>
<text x="857.0" y="462.9" font-family="Liberation Sans" font-weight="normal" font-size="14" fill="#2b2b2b" stroke="#2b2b2b" stroke-width="0.3" textLength="136.0" lengthAdjust="spacingAndGlyphs">Warm water loses its</text>
<text x="857.0" y="479.5" font-family="Liberation Sans" font-weight="normal" font-size="14" fill="#2b2b2b" stroke="#2b2b2b" stroke-width="0.3" textLength="113.6" lengthAdjust="spacingAndGlyphs">ability to hold gas</text>
</svg></body></html>
